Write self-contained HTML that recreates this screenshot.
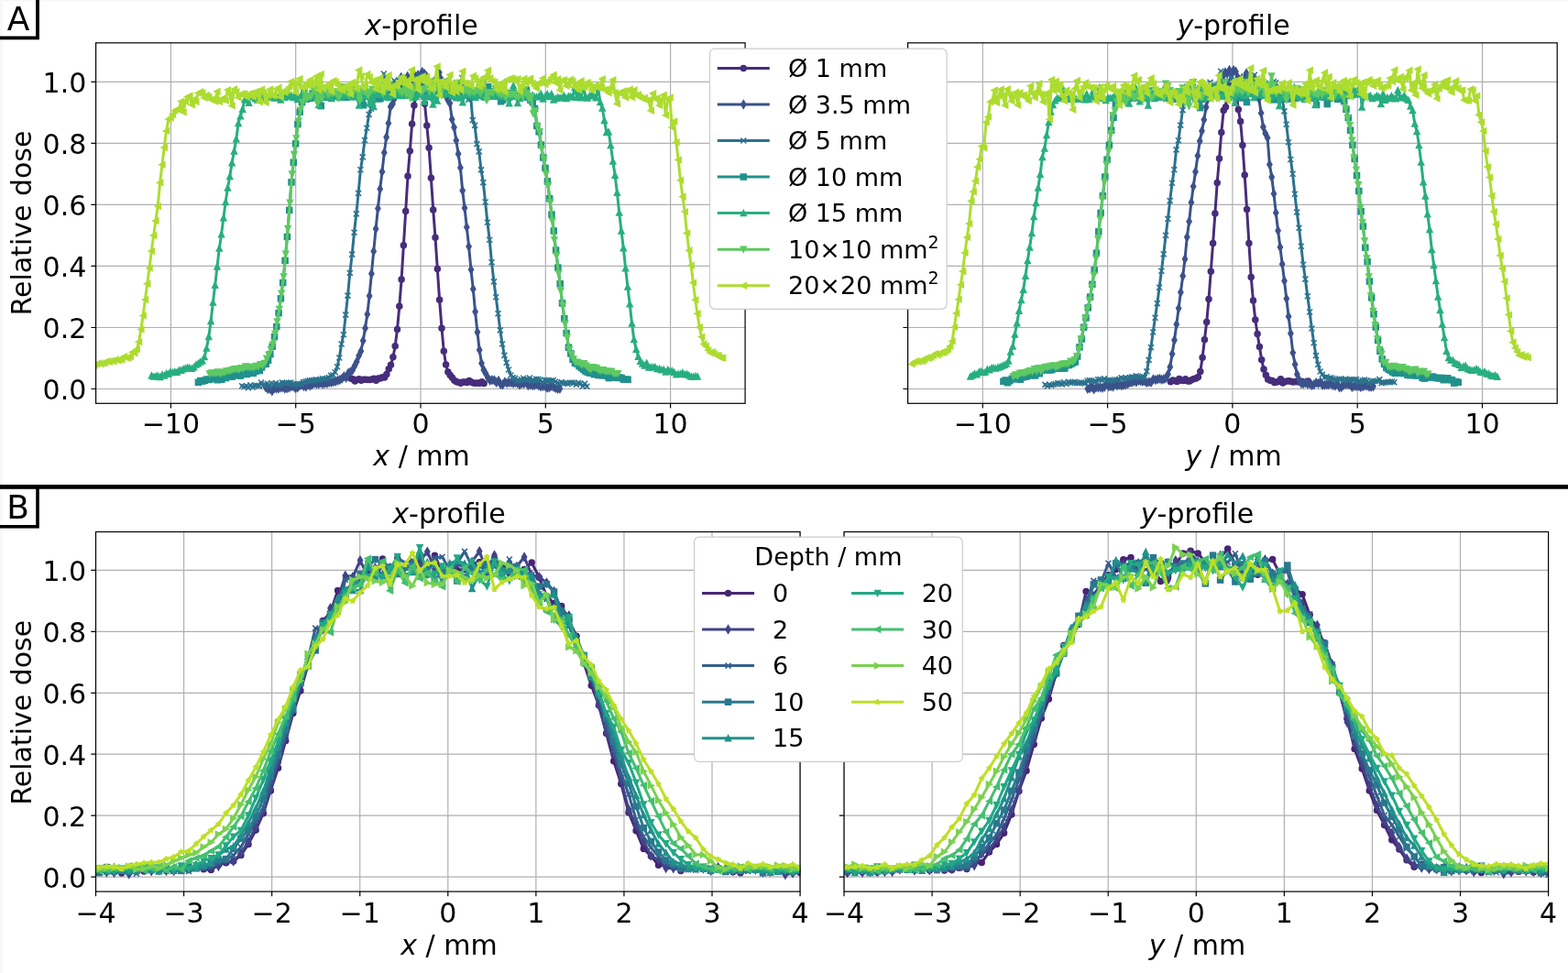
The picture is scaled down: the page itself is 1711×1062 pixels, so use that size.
<!DOCTYPE html><html><head><meta charset="utf-8"><title>Dose profiles</title><style>html,body{margin:0;padding:0;background:#fff;overflow:hidden}svg{display:block}text{font-family:"DejaVu Sans","Liberation Sans",sans-serif}</style></head><body><svg width="1711" height="1062" viewBox="0 0 1711 1062" font-family="'DejaVu Sans', 'Liberation Sans', sans-serif" fill="#000"><defs><marker id="ma0" markerUnits="userSpaceOnUse" markerWidth="14" markerHeight="14" refX="7" refY="7" orient="0" overflow="visible"><circle cx="7" cy="7" r="3" fill="#472d7b" stroke="#472d7b" stroke-width="1.5" stroke-linejoin="miter"/></marker><marker id="ma1" markerUnits="userSpaceOnUse" markerWidth="14" markerHeight="14" refX="7" refY="7" orient="0" overflow="visible"><polygon points="7.00,2.76 9.55,7.00 7.00,11.24 4.45,7.00" fill="#3b528b" stroke="#3b528b" stroke-width="1.5" stroke-linejoin="miter"/></marker><marker id="ma2" markerUnits="userSpaceOnUse" markerWidth="14" markerHeight="14" refX="7" refY="7" orient="0" overflow="visible"><path d="M4 4L10 10M4 10L10 4" fill="none" stroke="#2c728e" stroke-width="1.5"/></marker><marker id="ma3" markerUnits="userSpaceOnUse" markerWidth="14" markerHeight="14" refX="7" refY="7" orient="0" overflow="visible"><rect x="4" y="4" width="6" height="6" fill="#21918c" stroke="#21918c" stroke-width="1.5" stroke-linejoin="miter"/></marker><marker id="ma4" markerUnits="userSpaceOnUse" markerWidth="14" markerHeight="14" refX="7" refY="7" orient="0" overflow="visible"><polygon points="7.00,4.00 4.00,10.00 10.00,10.00" fill="#28ae80" stroke="#28ae80" stroke-width="1.5" stroke-linejoin="miter"/></marker><marker id="ma5" markerUnits="userSpaceOnUse" markerWidth="14" markerHeight="14" refX="7" refY="7" orient="0" overflow="visible"><polygon points="7.00,10.00 4.00,4.00 10.00,4.00" fill="#5ec962" stroke="#5ec962" stroke-width="1.5" stroke-linejoin="miter"/></marker><marker id="ma6" markerUnits="userSpaceOnUse" markerWidth="14" markerHeight="14" refX="7" refY="7" orient="0" overflow="visible"><polygon points="4.00,7.00 10.00,4.00 10.00,10.00" fill="#addc30" stroke="#addc30" stroke-width="1.5" stroke-linejoin="miter"/></marker><marker id="mb0" markerUnits="userSpaceOnUse" markerWidth="14" markerHeight="14" refX="7" refY="7" orient="0" overflow="visible"><circle cx="7" cy="7" r="3" fill="#482475" stroke="#482475" stroke-width="1.5" stroke-linejoin="miter"/></marker><marker id="mb1" markerUnits="userSpaceOnUse" markerWidth="14" markerHeight="14" refX="7" refY="7" orient="0" overflow="visible"><polygon points="7.00,2.76 9.55,7.00 7.00,11.24 4.45,7.00" fill="#414487" stroke="#414487" stroke-width="1.5" stroke-linejoin="miter"/></marker><marker id="mb2" markerUnits="userSpaceOnUse" markerWidth="14" markerHeight="14" refX="7" refY="7" orient="0" overflow="visible"><path d="M4 4L10 10M4 10L10 4" fill="none" stroke="#355f8d" stroke-width="1.5"/></marker><marker id="mb3" markerUnits="userSpaceOnUse" markerWidth="14" markerHeight="14" refX="7" refY="7" orient="0" overflow="visible"><rect x="4" y="4" width="6" height="6" fill="#2a788e" stroke="#2a788e" stroke-width="1.5" stroke-linejoin="miter"/></marker><marker id="mb4" markerUnits="userSpaceOnUse" markerWidth="14" markerHeight="14" refX="7" refY="7" orient="0" overflow="visible"><polygon points="7.00,4.00 4.00,10.00 10.00,10.00" fill="#21918c" stroke="#21918c" stroke-width="1.5" stroke-linejoin="miter"/></marker><marker id="mb5" markerUnits="userSpaceOnUse" markerWidth="14" markerHeight="14" refX="7" refY="7" orient="0" overflow="visible"><polygon points="7.00,10.00 4.00,4.00 10.00,4.00" fill="#22a884" stroke="#22a884" stroke-width="1.5" stroke-linejoin="miter"/></marker><marker id="mb6" markerUnits="userSpaceOnUse" markerWidth="14" markerHeight="14" refX="7" refY="7" orient="0" overflow="visible"><polygon points="4.00,7.00 10.00,4.00 10.00,10.00" fill="#44bf70" stroke="#44bf70" stroke-width="1.5" stroke-linejoin="miter"/></marker><marker id="mb7" markerUnits="userSpaceOnUse" markerWidth="14" markerHeight="14" refX="7" refY="7" orient="0" overflow="visible"><polygon points="10.00,7.00 4.00,4.00 4.00,10.00" fill="#7ad151" stroke="#7ad151" stroke-width="1.5" stroke-linejoin="miter"/></marker><marker id="mb8" markerUnits="userSpaceOnUse" markerWidth="14" markerHeight="14" refX="7" refY="7" orient="0" overflow="visible"><polygon points="7.00,4.00 6.33,6.07 4.15,6.07 5.91,7.35 5.24,9.43 7.00,8.15 8.76,9.43 8.09,7.35 9.85,6.07 7.67,6.07" fill="#bddf26" stroke="#bddf26" stroke-width="1.5" stroke-linejoin="bevel"/></marker><clipPath id="cA1"><rect x="104.6" y="46.8" width="708.5" height="393.5"/></clipPath><clipPath id="cA2"><rect x="990.6" y="46.8" width="708.6" height="393.5"/></clipPath><clipPath id="cB1"><rect x="104.5" y="580.5" width="768.6" height="392.6"/></clipPath><clipPath id="cB2"><rect x="921" y="580.5" width="768.6" height="392.6"/></clipPath></defs><rect width="1711" height="1062" fill="#fff"/><rect x="0" y="0" width="2" height="1062" fill="#f7f7f7"/><rect x="2" y="0" width="2" height="1062" fill="#fcfcfc"/><rect x="0" y="0" width="1711" height="1" fill="#f7f7f7"/><rect x="0" y="1" width="1711" height="1" fill="#fcfcfc"/><g stroke="#b0b0b0" stroke-width="1.2" stroke-linecap="square" clip-path="url(#cA1)"><line x1="186.4" y1="46.8" x2="186.4" y2="440.3"/><line x1="322.7" y1="46.8" x2="322.7" y2="440.3"/><line x1="459" y1="46.8" x2="459" y2="440.3"/><line x1="595.3" y1="46.8" x2="595.3" y2="440.3"/><line x1="731.6" y1="46.8" x2="731.6" y2="440.3"/><line x1="104.6" y1="424.5" x2="813.1" y2="424.5"/><line x1="104.6" y1="357.48" x2="813.1" y2="357.48"/><line x1="104.6" y1="290.46" x2="813.1" y2="290.46"/><line x1="104.6" y1="223.44" x2="813.1" y2="223.44"/><line x1="104.6" y1="156.42" x2="813.1" y2="156.42"/><line x1="104.6" y1="89.4" x2="813.1" y2="89.4"/></g><g fill="none" stroke-width="3" stroke-linejoin="round" stroke-linecap="square" clip-path="url(#cA1)"><polyline points="382.7,413.1 385,413.7 387.3,416 389.6,414.5 391.9,413.8 394.2,415.2 396.5,414.2 398.8,414.3 401.1,414.4 403.5,414.6 405.8,414 408.1,413.2 410.4,415.3 412.7,412.9 415,413 417.3,411.7 419.6,412 421.9,408.5 424.2,402.7 426.5,398.2 428.9,389.8 431.2,377.8 433.5,359.5 435.8,334.3 438.1,304.9 440.4,267.7 442.7,230.5 445,192.2 447.3,164.8 449.6,135.3 451.9,115.1 454.2,99.6 456.6,95.9 458.9,89 461.2,91.7 463.5,113.3 465.8,137.1 468.1,161.3 470.4,194.3 472.7,228.9 475,259.3 477.3,293.4 479.6,327.3 482,358.2 484.3,383.3 486.6,398 488.9,406 491.2,409.5 493.5,412.2 495.8,415.3 498.1,416.8 500.4,417.3 502.7,418.3 505,417.1 507.4,417 509.7,417.6 512,415.4 514.3,416.9 516.6,417.9 518.9,418.2 521.2,418 523.5,418.3 525.8,416.7 528.1,418.5" stroke="#472d7b" marker-start="url(#ma0)" marker-mid="url(#ma0)" marker-end="url(#ma0)"/><polyline points="290,422.7 292.3,424.6 294.6,424.6 296.9,426.7 299.2,423.8 301.5,424 303.8,424 306.2,423 308.5,422.7 310.8,424.1 313.1,423.7 315.4,423.1 317.7,421.8 320,421.8 322.3,423.5 324.6,423.1 326.9,421.1 329.2,420.1 331.5,421.5 333.9,422 336.2,420 338.5,421.1 340.8,419.6 343.1,418.4 345.4,418.9 347.7,419.1 350,418 352.3,419 354.6,418.2 356.9,418.2 359.3,417.4 361.6,417.3 363.9,416.6 366.2,416.3 368.5,415.3 370.8,414.5 373.1,413.2 375.4,410.8 377.7,412.2 380,407.2 382.3,406 384.7,403.9 387,399.3 389.3,394.7 391.6,388.3 393.9,383.3 396.2,371.9 398.5,358.2 400.8,343.1 403.1,323 405.4,298.7 407.7,274.3 410.1,249.7 412.4,227.5 414.7,206.3 417,187.4 419.3,166.6 421.6,149.7 423.9,134.6 426.2,116.5 428.5,113.4 430.8,107 433.1,100.3 435.5,95 437.8,84.3 440.1,95.1 442.4,92.8 444.7,83.3 447,92.8 449.3,89.1 451.6,84.2 453.9,83.3 456.2,81.8 458.5,82.2 460.8,78.5 463.2,80.6 465.5,83.3 467.8,89.5 470.1,90.7 472.4,96.5 474.7,87.2 477,98.4 479.3,79.1 481.6,86.9 483.9,101.3 486.2,103.7 488.6,109 490.9,112.7 493.2,130.2 495.5,139.1 497.8,153.3 500.1,168 502.4,183.1 504.7,208 507,227 509.3,247.9 511.6,269.1 514,294.3 516.3,315.6 518.6,340.3 520.9,362.5 523.2,382 525.5,396.6 527.8,403.7 530.1,407.7 532.4,412.4 534.7,415.2 537,414.8 539.4,415 541.7,417.4 544,415.5 546.3,419.6 548.6,419.7 550.9,416.9 553.2,418.1 555.5,417.4 557.8,417.5 560.1,418.2 562.4,417.6 564.7,418.2 567.1,420 569.4,418.5 571.7,418.8 574,417.4 576.3,420.7 578.6,419.9 580.9,420.6 583.2,420.6 585.5,419.1 587.8,420.7 590.1,421.9 592.5,421.6 594.8,421.3 597.1,423.4 599.4,422.9 601.7,421.4 604,422.4 606.3,423.6 608.6,424.4 610.9,424.3" stroke="#3b528b" marker-start="url(#ma1)" marker-mid="url(#ma1)" marker-end="url(#ma1)"/><polyline points="264.1,421.3 266.4,422.3 268.7,421.3 271,423.1 273.3,420.4 275.6,422.6 277.9,420.9 280.3,420.8 282.6,421.4 284.9,417.5 287.2,420.8 289.5,419.6 291.8,418.8 294.1,421 296.4,418.3 298.7,419.6 301,418.3 303.3,420 305.7,420 308,417.6 310.3,418.1 312.6,418.4 314.9,417.7 317.2,417.6 319.5,419.2 321.8,420 324.1,419.2 326.4,419 328.7,419.1 331,417.1 333.4,416.6 335.7,415.8 338,415.2 340.3,415.4 342.6,414.9 344.9,414.2 347.2,414.9 349.5,414.3 351.8,413.2 354.1,413.5 356.4,413 358.8,412.1 361.1,409.9 363.4,409.2 365.7,406.2 368,400.2 370.3,390.5 372.6,375.5 374.9,365.3 377.2,343.6 379.5,322.6 381.8,297.9 384.2,277.6 386.5,253.7 388.8,233.4 391.1,210.9 393.4,185.3 395.7,171.4 398,153 400.3,139.7 402.6,124.9 404.9,118.7 407.2,113.3 409.6,104.2 411.9,99.9 414.2,97.9 416.5,102.9 418.8,80.5 421.1,93.6 423.4,98.9 425.7,94.9 428,92.1 430.3,88.1 432.6,100.2 435,87.2 437.3,86.2 439.6,94.2 441.9,92.8 444.2,94 446.5,93.7 448.8,96.4 451.1,97.4 453.4,91.1 455.7,88.9 458,82.3 460.3,93.7 462.7,98.1 465,89.3 467.3,91.9 469.6,88.8 471.9,92 474.2,95.6 476.5,93.5 478.8,87.7 481.1,90 483.4,95.2 485.7,87.9 488.1,97.4 490.4,94 492.7,91.2 495,97.7 497.3,97.2 499.6,92.6 501.9,93.5 504.2,85 506.5,98.2 508.8,103.7 511.1,109 513.5,103.9 515.8,131.1 518.1,136.9 520.4,157.1 522.7,165.4 525,185.4 527.3,199.1 529.6,220.5 531.9,242.7 534.2,261.7 536.5,286.2 538.9,307.4 541.2,324.2 543.5,342.3 545.8,360.4 548.1,375.5 550.4,387.9 552.7,395.9 555,403.5 557.3,409.5 559.6,412 561.9,412.9 564.3,415.6 566.6,415.4 568.9,414.3 571.2,412.7 573.5,414.3 575.8,414.4 578.1,412.5 580.4,415.6 582.7,415.3 585,413.9 587.3,413.9 589.6,414.7 592,418 594.3,414.8 596.6,415.1 598.9,415.9 601.2,415.5 603.5,415 605.8,416.5 608.1,417.7 610.4,418.8 612.7,417.1 615,418.1 617.4,418.2 619.7,419 622,417.7 624.3,417.5 626.6,418 628.9,419.8 631.2,417.9 633.5,418.7 635.8,421.7 638.1,418.8 640.4,421.7" stroke="#2c728e" marker-start="url(#ma2)" marker-mid="url(#ma2)" marker-end="url(#ma2)"/><polyline points="216.4,417.3 218.7,415.6 221,416.1 223.3,415.3 225.6,414.1 227.9,414.5 230.2,413.4 232.5,413.5 234.9,412.5 237.2,414.7 239.5,414.1 241.8,414.3 244.1,412.1 246.4,412.6 248.7,411 251,411.3 253.3,411.1 255.6,408.6 257.9,409.6 260.3,409.7 262.6,410.1 264.9,407.4 267.2,407 269.5,408.5 271.8,407 274.1,406 276.4,407.4 278.7,405.3 281,402.8 283.3,404.6 285.7,400.8 288,397.5 290.3,397.3 292.6,393.2 294.9,386.7 297.2,378.3 299.5,367.6 301.8,356.5 304.1,341.8 306.4,325.9 308.7,308.6 311.1,284.4 313.4,258.4 315.7,229.4 318,198.9 320.3,177.3 322.6,156.9 324.9,135.6 327.2,122.2 329.5,111.7 331.8,96.5 334.1,108.2 336.4,107.3 338.8,107.3 341.1,102.1 343.4,100.2 345.7,105.7 348,103.9 350.3,115.6 352.6,96.7 354.9,106.4 357.2,106.2 359.5,98.7 361.8,106.7 364.2,103.3 366.5,101.9 368.8,104.8 371.1,105.2 373.4,102.3 375.7,98.4 378,106.3 380.3,99.2 382.6,104.7 384.9,101.9 387.2,105.6 389.6,101.9 391.9,105 394.2,101.4 396.5,114.8 398.8,103.8 401.1,100.4 403.4,105.6 405.7,104.4 408,100.2 410.3,100 412.6,107.9 415,107.7 417.3,99.7 419.6,100.6 421.9,102.3 424.2,106.5 426.5,99 428.8,96.4 431.1,99.6 433.4,97.3 435.7,102.5 438,100.1 440.4,102.2 442.7,103.3 445,101.1 447.3,102.5 449.6,102 451.9,101.9 454.2,100.8 456.5,100.4 458.8,99.2 461.1,102.9 463.4,105.4 465.7,104.6 468.1,99.7 470.4,99.7 472.7,106.2 475,101 477.3,97.3 479.6,99.1 481.9,101.7 484.2,102 486.5,99.8 488.8,100.3 491.1,98.6 493.5,100.5 495.8,98.6 498.1,100 500.4,103.2 502.7,104 505,102.8 507.3,100.4 509.6,103.9 511.9,99.3 514.2,105.9 516.5,102.6 518.9,104.5 521.2,101.2 523.5,101.8 525.8,102.7 528.1,105.7 530.4,104.8 532.7,94.6 535,100 537.3,104.5 539.6,101.5 541.9,100.5 544.3,105.3 546.6,110.8 548.9,109.1 551.2,104.4 553.5,101.5 555.8,106 558.1,102.7 560.4,101.6 562.7,102.8 565,105.1 567.3,103.4 569.7,105.9 572,105.3 574.3,98 576.6,106.5 578.9,109.2 581.2,111.6 583.5,118.5 585.8,137.4 588.1,143.8 590.4,158.1 592.7,172 595,183.4 597.4,197.9 599.7,216.7 602,234.1 604.3,252 606.6,273.1 608.9,292.1 611.2,309.8 613.5,330.9 615.8,347.7 618.1,363.6 620.4,379.2 622.8,385.9 625.1,392.3 627.4,396.2 629.7,397.1 632,399.6 634.3,401.5 636.6,403.3 638.9,405.1 641.2,406.2 643.5,407.1 645.8,407 648.2,408.6 650.5,408.4 652.8,409.5 655.1,409 657.4,409.9 659.7,408.9 662,410.3 664.3,412.6 666.6,411.5 668.9,412.2 671.2,411.1 673.6,412.4 675.9,412 678.2,412.5 680.5,414.2 682.8,414.2 685.1,414.2" stroke="#21918c" marker-start="url(#ma3)" marker-mid="url(#ma3)" marker-end="url(#ma3)"/><polyline points="165.4,409.9 167.7,411.1 170,410.5 172.3,410.2 174.6,411.6 177,408.9 179.3,410 181.6,407.7 183.9,407.9 186.2,405.7 188.5,406.5 190.8,405.7 193.1,406.2 195.4,404 197.7,404.2 200,402.8 202.4,401.9 204.7,401.2 207,401.5 209.3,402.3 211.6,400.8 213.9,398 216.2,396.8 218.5,394.9 220.8,393.8 223.1,389.6 225.4,380.1 227.8,367.4 230.1,350.5 232.4,330.1 234.7,311.2 237,290.9 239.3,271.1 241.6,255.7 243.9,237.7 246.2,220.4 248.5,204.9 250.8,192.6 253.1,177.7 255.5,164.9 257.8,151.7 260.1,134.4 262.4,126.8 264.7,119.2 267,108.7 269.3,108.8 271.6,112.2 273.9,103.2 276.2,105.2 278.5,107.4 280.9,109 283.2,107.9 285.5,105.8 287.8,105 290.1,106.5 292.4,106 294.7,100.6 297,104.7 299.3,107.1 301.6,104.1 303.9,106.7 306.3,109.1 308.6,104.7 310.9,106.3 313.2,104.9 315.5,101.9 317.8,104.7 320.1,106.3 322.4,102.1 324.7,108.4 327,106.7 329.3,102.4 331.7,102.1 334,105.1 336.3,105.9 338.6,104.1 340.9,104.1 343.2,104.3 345.5,105.4 347.8,114.4 350.1,105.7 352.4,105.2 354.7,105.1 357.1,105.6 359.4,104.6 361.7,107.4 364,102.8 366.3,102 368.6,105.3 370.9,106.5 373.2,103.6 375.5,103.2 377.8,104.3 380.1,102.4 382.4,104.9 384.8,105.8 387.1,101.3 389.4,104.7 391.7,115 394,107.6 396.3,104.4 398.6,104.7 400.9,103.7 403.2,112.8 405.5,103.3 407.8,116.5 410.2,92.7 412.5,102.9 414.8,102.5 417.1,103.5 419.4,103.2 421.7,105.7 424,105.9 426.3,104.4 428.6,104.5 430.9,102.9 433.2,100.4 435.6,104.2 437.9,104.6 440.2,101.4 442.5,104.1 444.8,104.1 447.1,103 449.4,102.3 451.7,106.4 454,105.2 456.3,102 458.6,102.5 461,103 463.3,111.1 465.6,105.7 467.9,103 470.2,104 472.5,114.1 474.8,104.5 477.1,110.1 479.4,98.9 481.7,102.2 484,102.9 486.3,100.6 488.7,102.2 491,99.7 493.3,104.8 495.6,105.2 497.9,106.8 500.2,105 502.5,106.7 504.8,111.8 507.1,103.3 509.4,102.6 511.7,103.2 514.1,103.6 516.4,104 518.7,106.2 521,101.1 523.3,104.3 525.6,100.7 527.9,102.6 530.2,106.1 532.5,104.6 534.8,104.6 537.1,105 539.5,105.1 541.8,104.2 544.1,105.2 546.4,105.5 548.7,93.1 551,104.2 553.3,105.2 555.6,112.8 557.9,105.1 560.2,93.4 562.5,104.5 564.9,112.4 567.2,107.6 569.5,101.7 571.8,105.4 574.1,102.6 576.4,105.7 578.7,105 581,104 583.3,105.5 585.6,105.8 587.9,105.3 590.3,102.4 592.6,108 594.9,105.1 597.2,102.7 599.5,105.6 601.8,102.5 604.1,109 606.4,107.5 608.7,106.2 611,106.8 613.3,106.6 615.6,104.4 618,107.4 620.3,105 622.6,105.1 624.9,105.9 627.2,95.6 629.5,106.2 631.8,102 634.1,106.7 636.4,94.1 638.7,105.1 641,107 643.4,104.5 645.7,103.6 648,104.8 650.3,106.8 652.6,95.1 654.9,111.5 657.2,118 659.5,131.4 661.8,144.5 664.1,143.9 666.4,158.6 668.8,176 671.1,191.2 673.4,210.2 675.7,232.1 678,252 680.3,270.7 682.6,292.7 684.9,313.1 687.2,331.8 689.5,353 691.8,370.6 694.2,381.3 696.5,389.2 698.8,394.4 701.1,396.9 703.4,398.9 705.7,396.3 708,401 710.3,400.6 712.6,400.7 714.9,400.6 717.2,402.6 719.6,402.4 721.9,403.8 724.2,403.3 726.5,406.1 728.8,403.4 731.1,404.8 733.4,404.9 735.7,406.4 738,408.8 740.3,408.2 742.6,408 744.9,406.8 747.3,408.8 749.6,408.2 751.9,409.7 754.2,411 756.5,411.1 758.8,410.7 761.1,410.9" stroke="#28ae80" marker-start="url(#ma4)" marker-mid="url(#ma4)" marker-end="url(#ma4)"/><polyline points="228.7,407.9 231,407 233.3,407.2 235.6,407.2 237.9,406.1 240.2,407.7 242.5,406.7 244.8,406.3 247.1,405.1 249.4,404.9 251.7,404.3 254.1,403.4 256.4,402.7 258.7,402.6 261,403.2 263.3,401.7 265.6,402.1 267.9,400 270.2,400.5 272.5,400.8 274.8,400.6 277.1,401.1 279.4,399.5 281.8,400.1 284.1,397.7 286.4,398.7 288.7,396.5 291,391.3 293.3,387.2 295.6,381.4 297.9,375.9 300.2,364.3 302.5,351.1 304.8,337.5 307.2,320.3 309.5,302.1 311.8,277.3 314.1,249.5 316.4,221.3 318.7,190 321,168.6 323.3,151.1 325.6,132.6 327.9,120.3 330.2,112 332.6,102.6 334.9,107.9 337.2,105.3 339.5,105.1 341.8,98.1 344.1,97.1 346.4,112.7 348.7,97.1 351,107.9 353.3,97.1 355.6,98.7 358,103.7 360.3,101.6 362.6,101.8 364.9,100.1 367.2,101.4 369.5,107 371.8,103.2 374.1,94.7 376.4,99.7 378.7,101 381,104.1 383.4,97.2 385.7,99.8 388,92.7 390.3,100.8 392.6,109.6 394.9,97.1 397.2,99.6 399.5,101.3 401.8,104.4 404.1,100.4 406.4,97.6 408.7,98.3 411.1,89.9 413.4,97.1 415.7,98.4 418,102.3 420.3,97.7 422.6,96.9 424.9,91.9 427.2,98.1 429.5,101.6 431.8,94 434.1,95.3 436.5,99.5 438.8,101.5 441.1,92.1 443.4,102.8 445.7,99.1 448,107.2 450.3,100.2 452.6,97.2 454.9,94.7 457.2,87 459.5,100.5 461.9,98.3 464.2,96.8 466.5,92.7 468.8,100.1 471.1,91.7 473.4,99.8 475.7,92.4 478,89.9 480.3,92.9 482.6,98.1 484.9,92 487.3,93.8 489.6,96.2 491.9,98.5 494.2,99.4 496.5,98.6 498.8,90.4 501.1,96.7 503.4,97.1 505.7,100.3 508,97.7 510.3,99.9 512.7,101.5 515,98.9 517.3,100.9 519.6,99.1 521.9,90.2 524.2,102.1 526.5,98.1 528.8,87.6 531.1,109.6 533.4,101.1 535.7,101 538,101.4 540.4,96.4 542.7,100.5 545,102.3 547.3,103.6 549.6,99 551.9,106.7 554.2,102.5 556.5,103.6 558.8,103 561.1,102.9 563.4,105.9 565.8,106 568.1,102.4 570.4,105.2 572.7,97.7 575,101.7 577.3,107.8 579.6,105.6 581.9,124.1 584.2,121 586.5,138.2 588.8,143.8 591.2,162.6 593.5,173.6 595.8,190 598.1,202.7 600.4,221.1 602.7,241.4 605,261.9 607.3,279.3 609.6,298.5 611.9,317.5 614.2,333.3 616.6,353.4 618.9,368.3 621.2,381.5 623.5,386.8 625.8,391.9 628.1,395.3 630.4,395.6 632.7,396.4 635,398.4 637.3,396.8 639.6,399.1 642,401.6 644.3,403.3 646.6,400.7 648.9,401.3 651.2,402 653.5,404.1 655.8,404.7 658.1,403.7 660.4,405.3 662.7,405.4 665,405.3 667.3,405.4 669.7,407.8 672,407.7 674.3,407.7" stroke="#5ec962" marker-start="url(#ma5)" marker-mid="url(#ma5)" marker-end="url(#ma5)"/><polyline points="100.7,397.4 103,398.7 105.3,397.4 107.6,396.3 109.9,397.2 112.2,396.2 114.5,396 116.8,394.2 119.1,395 121.4,393.7 123.8,394.2 126.1,392.5 128.4,393.4 130.7,393.1 133,392 135.3,389.2 137.6,390.6 139.9,390.7 142.2,389.2 144.5,384.3 146.8,385.2 149.2,381.2 151.5,373.2 153.8,359.6 156.1,344.6 158.4,327.1 160.7,309.7 163,292.6 165.3,274.1 167.6,257 169.9,240.9 172.2,225.1 174.6,199.4 176.9,179.8 179.2,161 181.5,142.9 183.8,130.3 186.1,128.3 188.4,125 190.7,120.8 193,119.3 195.3,119.4 197.6,110.6 200,122.5 202.3,110.9 204.6,105.6 206.9,104.4 209.2,114.6 211.5,108.5 213.8,111 216.1,101.6 218.4,100.3 220.7,101.5 223,106.7 225.3,103.9 227.7,105.4 230,108.8 232.3,108.7 234.6,110.7 236.9,99.8 239.2,111 241.5,108.4 243.8,106.9 246.1,109.8 248.4,98.1 250.7,102.6 253.1,115.4 255.4,97.3 257.7,100.2 260,106.5 262.3,102.9 264.6,102.2 266.9,102.4 269.2,106 271.5,102.7 273.8,101.8 276.1,105.9 278.5,100.1 280.8,100.9 283.1,111.4 285.4,97.5 287.7,101.1 290,112 292.3,104.1 294.6,97.4 296.9,104.4 299.2,104.3 301.5,97.1 303.9,95.7 306.2,106.1 308.5,99.8 310.8,100.7 313.1,98.8 315.4,95.1 317.7,88.9 320,91 322.3,100.8 324.6,91.6 326.9,85.9 329.3,95.9 331.6,94.6 333.9,91.1 336.2,93.8 338.5,87.2 340.8,93.2 343.1,90.2 345.4,83.2 347.7,98.3 350,80.9 352.3,96.8 354.6,94.1 357,94.7 359.3,91.4 361.6,100 363.9,87.9 366.2,89.6 368.5,92.9 370.8,97.7 373.1,98.3 375.4,94.4 377.7,96.5 380,92.7 382.4,102.8 384.7,89.6 387,91.9 389.3,96.9 391.6,76.4 393.9,83.2 396.2,95.5 398.5,93.2 400.8,80.9 403.1,84.3 405.4,90.1 407.8,87.6 410.1,97.3 412.4,91 414.7,84.9 417,99.8 419.3,87.9 421.6,95.4 423.9,82 426.2,95.7 428.5,103 430.8,93.2 433.2,93.4 435.5,89 437.8,84.2 440.1,86.8 442.4,91.9 444.7,87.7 447,94.5 449.3,76.1 451.6,87.6 453.9,87.3 456.2,97.9 458.6,86.1 460.9,83.1 463.2,89.8 465.5,83.6 467.8,88.4 470.1,96.8 472.4,95.9 474.7,87.6 477,72.5 479.3,104.2 481.6,88.7 483.9,91.3 486.3,95.2 488.6,87.7 490.9,81.6 493.2,101.2 495.5,90.3 497.8,100.3 500.1,94.9 502.4,98.2 504.7,77.7 507,90.7 509.3,90.9 511.7,92 514,93.8 516.3,82.7 518.6,85.5 520.9,88.8 523.2,94.5 525.5,91.4 527.8,84.5 530.1,84.7 532.4,76.8 534.7,85.2 537.1,88.7 539.4,89.4 541.7,97.8 544,92.3 546.3,97.3 548.6,89.8 550.9,100.5 553.2,87 555.5,86.1 557.8,85.3 560.1,86.1 562.5,88.7 564.8,85.9 567.1,99.8 569.4,93 571.7,85.8 574,90.7 576.3,87.1 578.6,85.5 580.9,90.8 583.2,93.8 585.5,96.6 587.8,90.8 590.2,89.5 592.5,85.2 594.8,92.1 597.1,89.2 599.4,87.5 601.7,84.4 604,81.6 606.3,90.5 608.6,86.1 610.9,98.5 613.2,87.8 615.6,87.2 617.9,93.7 620.2,92.3 622.5,86.7 624.8,88.5 627.1,95 629.4,91.1 631.7,98.4 634,88.3 636.3,95.9 638.6,93.7 641,89.9 643.3,93.1 645.6,98.5 647.9,94.6 650.2,93 652.5,95.7 654.8,95.9 657.1,86.1 659.4,98 661.7,97.8 664,101.6 666.4,95.9 668.7,87.2 671,100.9 673.3,113.3 675.6,101.3 677.9,102.6 680.2,99.2 682.5,106.5 684.8,98.7 687.1,97.5 689.4,106.2 691.8,98.3 694.1,104 696.4,103.1 698.7,106.3 701,107.8 703.3,106.6 705.6,109.5 707.9,109.8 710.2,120.7 712.5,102 714.8,107.9 717.1,107.2 719.5,115.1 721.8,109 724.1,103.6 726.4,125.8 728.7,108.2 731,106.4 733.3,139.1 735.6,132.5 737.9,155.3 740.2,174.5 742.5,196.8 744.9,214.7 747.2,231.1 749.5,254.4 751.8,273.3 754.1,289.8 756.4,308.6 758.7,327.3 761,342.3 763.3,357.2 765.6,367.6 767.9,375.5 770.3,378 772.6,382.1 774.9,385.1 777.2,384.1 779.5,386.3 781.8,387.9 784.1,387.9 786.4,390.5 788.7,390.7" stroke="#addc30" marker-start="url(#ma6)" marker-mid="url(#ma6)" marker-end="url(#ma6)"/></g><rect x="104.6" y="46.8" width="708.5" height="393.5" fill="none" stroke="#000" stroke-width="1.2"/><path d="M186.4 440.3v5.2M322.7 440.3v5.2M459 440.3v5.2M595.3 440.3v5.2M731.6 440.3v5.2M104.6 424.5h-5.2M104.6 357.48h-5.2M104.6 290.46h-5.2M104.6 223.44h-5.2M104.6 156.42h-5.2M104.6 89.4h-5.2" stroke="#000" stroke-width="1.2"/><text x="186.4" y="473.1" font-size="30" text-anchor="middle">−10</text><text x="322.7" y="473.1" font-size="30" text-anchor="middle">−5</text><text x="459" y="473.1" font-size="30" text-anchor="middle">0</text><text x="595.3" y="473.1" font-size="30" text-anchor="middle">5</text><text x="731.6" y="473.1" font-size="30" text-anchor="middle">10</text><text x="94.3" y="436.3" font-size="30" text-anchor="end">0.0</text><text x="94.3" y="369.28" font-size="30" text-anchor="end">0.2</text><text x="94.3" y="302.26" font-size="30" text-anchor="end">0.4</text><text x="94.3" y="235.24" font-size="30" text-anchor="end">0.6</text><text x="94.3" y="168.22" font-size="30" text-anchor="end">0.8</text><text x="94.3" y="101.2" font-size="30" text-anchor="end">1.0</text><text x="0" y="0" font-size="30" text-anchor="middle" transform="translate(34.4 243.55) rotate(-90)">Relative dose</text><text x="460.05" y="37.9" font-size="30" text-anchor="middle"><tspan font-style="italic">x</tspan>-profile</text><text x="460.05" y="507.9" font-size="30" text-anchor="middle"><tspan font-style="italic">x</tspan> / mm</text><g stroke="#b0b0b0" stroke-width="1.2" stroke-linecap="square" clip-path="url(#cA2)"><line x1="1072.3" y1="46.8" x2="1072.3" y2="440.3"/><line x1="1208.6" y1="46.8" x2="1208.6" y2="440.3"/><line x1="1344.9" y1="46.8" x2="1344.9" y2="440.3"/><line x1="1481.2" y1="46.8" x2="1481.2" y2="440.3"/><line x1="1617.5" y1="46.8" x2="1617.5" y2="440.3"/><line x1="990.6" y1="424.5" x2="1699.2" y2="424.5"/><line x1="990.6" y1="357.48" x2="1699.2" y2="357.48"/><line x1="990.6" y1="290.46" x2="1699.2" y2="290.46"/><line x1="990.6" y1="223.44" x2="1699.2" y2="223.44"/><line x1="990.6" y1="156.42" x2="1699.2" y2="156.42"/><line x1="990.6" y1="89.4" x2="1699.2" y2="89.4"/></g><g fill="none" stroke-width="3" stroke-linejoin="round" stroke-linecap="square" clip-path="url(#cA2)"><polyline points="1277.4,416.7 1279.7,415.1 1282,415.6 1284.4,416.4 1286.7,413.5 1289,415.3 1291.3,415.6 1293.6,413.7 1295.9,416 1298.2,416 1300.5,414.5 1302.8,413.6 1305.1,413 1307.4,411.5 1309.8,405.4 1312.1,390.3 1314.4,370.8 1316.7,351.5 1319,326.6 1321.3,296.2 1323.6,265.5 1325.9,232.9 1328.2,199.5 1330.5,172.9 1332.8,144.4 1335.2,120.6 1337.5,116.7 1339.8,91.4 1342.1,93.8 1344.4,90.9 1346.7,92.8 1349,98.8 1351.3,119.6 1353.6,132.6 1355.9,158.4 1358.2,191.1 1360.6,228.6 1362.9,265.6 1365.2,302.4 1367.5,328.1 1369.8,348.9 1372.1,364.6 1374.4,378.5 1376.7,392.7 1379,402.9 1381.3,409.2 1383.6,414 1386,415.2 1388.3,415.5 1390.6,417.5 1392.9,417.1 1395.2,416.4 1397.5,413.7 1399.8,418 1402.1,416.4 1404.4,416.1 1406.7,415.8 1409,416.6 1411.3,416.9 1413.7,416.5 1416,416.7 1418.3,416.9 1420.6,416.2 1422.9,417.9 1425.2,417.3 1427.5,416" stroke="#472d7b" marker-start="url(#ma0)" marker-mid="url(#ma0)" marker-end="url(#ma0)"/><polyline points="1186.8,424.3 1189.1,423.7 1191.4,422.3 1193.7,424.7 1196,422.9 1198.3,422.8 1200.6,422.8 1203,423.2 1205.3,422.2 1207.6,419 1209.9,421.8 1212.2,421.6 1214.5,422 1216.8,419.7 1219.1,420.7 1221.4,420 1223.7,420.8 1226,420.3 1228.4,419.7 1230.7,418.8 1233,417.6 1235.3,417.2 1237.6,416.1 1239.9,417 1242.2,415.4 1244.5,415.9 1246.8,416.3 1249.1,416.1 1251.4,417.5 1253.8,416.9 1256.1,417.2 1258.4,413.9 1260.7,414.6 1263,414 1265.3,413.4 1267.6,414.3 1269.9,413.7 1272.2,412.9 1274.5,408.5 1276.8,400.5 1279.1,386.3 1281.5,371.2 1283.8,354.1 1286.1,336.6 1288.4,319.1 1290.7,301.3 1293,282.8 1295.3,258.7 1297.6,241.8 1299.9,220.9 1302.2,203.5 1304.5,187.5 1306.9,170.1 1309.2,154.1 1311.5,143 1313.8,130.7 1316.1,117 1318.4,107.4 1320.7,98.8 1323,101.5 1325.3,97.5 1327.6,97.7 1329.9,90.4 1332.3,92.9 1334.6,83.3 1336.9,78.9 1339.2,80.3 1341.5,76.4 1343.8,86 1346.1,76.7 1348.4,78.1 1350.7,84.3 1353,98.3 1355.3,85.3 1357.7,86.2 1360,79.9 1362.3,91 1364.6,95.2 1366.9,101.7 1369.2,100.4 1371.5,100.1 1373.8,107.7 1376.1,123.4 1378.4,138.6 1380.7,145.6 1383.1,150.4 1385.4,179.6 1387.7,193.2 1390,211.4 1392.3,232.3 1394.6,251.7 1396.9,269.7 1399.2,288.3 1401.5,306.6 1403.8,326.1 1406.1,345.4 1408.4,363.9 1410.8,385.1 1413.1,397.7 1415.4,408.6 1417.7,414.7 1420,418.5 1422.3,418.9 1424.6,417.7 1426.9,419.2 1429.2,418.7 1431.5,420.5 1433.8,419.7 1436.2,417.6 1438.5,418.6 1440.8,417 1443.1,420.4 1445.4,420.1 1447.7,419.7 1450,419.8 1452.3,418.9 1454.6,420.6 1456.9,421.1 1459.2,419.5 1461.6,422.9 1463.9,422.6 1466.2,420.2 1468.5,419.5 1470.8,419.6 1473.1,420 1475.4,422.6 1477.7,421.3 1480,421.5 1482.3,421.4 1484.6,422.6 1487,421.7 1489.3,421 1491.6,421 1493.9,422.1 1496.2,422.2 1498.5,421.7" stroke="#3b528b" marker-start="url(#ma1)" marker-mid="url(#ma1)" marker-end="url(#ma1)"/><polyline points="1140.5,419.9 1142.8,421.5 1145.1,419.8 1147.4,420.7 1149.7,419.7 1152,419.1 1154.3,418 1156.6,418.5 1158.9,419.4 1161.2,417.3 1163.5,419 1165.8,416.9 1168.2,417.9 1170.5,417.4 1172.8,416.8 1175.1,417.9 1177.4,418.2 1179.7,417.4 1182,417.8 1184.3,418.5 1186.6,415.8 1188.9,415.1 1191.2,415.6 1193.6,416.5 1195.9,416.3 1198.2,414.3 1200.5,414 1202.8,415.2 1205.1,413.4 1207.4,415.2 1209.7,414.7 1212,415.3 1214.3,415.8 1216.6,414.5 1219,414.5 1221.3,413.7 1223.6,412.3 1225.9,413.3 1228.2,412.4 1230.5,413.2 1232.8,412 1235.1,411.4 1237.4,412 1239.7,410.3 1242,411 1244.4,411.8 1246.7,410.8 1249,412 1251.3,405.4 1253.6,392.9 1255.9,379.1 1258.2,362.5 1260.5,346.8 1262.8,331.1 1265.1,313.7 1267.4,295.8 1269.7,277.4 1272.1,256.9 1274.4,238.9 1276.7,219.1 1279,199.7 1281.3,185.3 1283.6,163.4 1285.9,153.2 1288.2,136.6 1290.5,120.1 1292.8,104.6 1295.1,94.6 1297.5,103 1299.8,106.8 1302.1,94.8 1304.4,108.5 1306.7,98.5 1309,96.5 1311.3,91.3 1313.6,96 1315.9,97.6 1318.2,94.4 1320.5,89.9 1322.9,98.8 1325.2,94.8 1327.5,98.9 1329.8,92.6 1332.1,77.7 1334.4,95 1336.7,91.2 1339,88.7 1341.3,88.6 1343.6,84.7 1345.9,91.5 1348.3,92.4 1350.6,93.1 1352.9,89.7 1355.2,92.1 1357.5,91.8 1359.8,94.9 1362.1,81.7 1364.4,91.4 1366.7,101.5 1369,81.8 1371.3,91.1 1373.7,95.2 1376,91.3 1378.3,89.4 1380.6,93.2 1382.9,98.5 1385.2,90.9 1387.5,98.6 1389.8,89.1 1392.1,90.2 1394.4,102.2 1396.7,108.2 1399,106.3 1401.4,121.4 1403.7,135.7 1406,155.3 1408.3,174 1410.6,189.8 1412.9,211.8 1415.2,231.6 1417.5,248.7 1419.8,268.7 1422.1,288.7 1424.4,304.6 1426.8,323.3 1429.1,340.5 1431.4,358.5 1433.7,374.3 1436,388.1 1438.3,397.9 1440.6,405.5 1442.9,408.7 1445.2,412 1447.5,411.3 1449.8,412.7 1452.2,412.2 1454.5,413.3 1456.8,414.2 1459.1,415.1 1461.4,413.6 1463.7,413.9 1466,414.7 1468.3,413.6 1470.6,414.9 1472.9,414.3 1475.2,414.4 1477.6,414.4 1479.9,414.1 1482.2,416.5 1484.5,416.4 1486.8,415.4 1489.1,414.6 1491.4,415.4 1493.7,418.1 1496,416.2 1498.3,415.8 1500.6,416.3 1503,415.9 1505.3,414.1 1507.6,418.3 1509.9,417.4 1512.2,417.4 1514.5,417.1 1516.8,416.7 1519.1,416.5 1521.4,417.3" stroke="#2c728e" marker-start="url(#ma2)" marker-mid="url(#ma2)" marker-end="url(#ma2)"/><polyline points="1094.9,416.3 1097.2,415 1099.5,417.7 1101.9,415.7 1104.2,413.4 1106.5,411.4 1108.8,413.8 1111.1,411.9 1113.4,414.2 1115.7,411.8 1118,411.3 1120.3,410.9 1122.6,409.8 1124.9,409.6 1127.3,407.6 1129.6,410 1131.9,405.6 1134.2,407.8 1136.5,404.3 1138.8,403.7 1141.1,402.6 1143.4,403.8 1145.7,404 1148,403.5 1150.3,401.5 1152.6,402.2 1155,401.7 1157.3,400.5 1159.6,402.3 1161.9,402 1164.2,398.6 1166.5,398.5 1168.8,397.3 1171.1,395.9 1173.4,395 1175.7,389 1178,378.9 1180.4,370 1182.7,357.2 1185,346.9 1187.3,335.9 1189.6,324.1 1191.9,310.3 1194.2,294.8 1196.5,276.2 1198.8,252.9 1201.1,232.4 1203.4,213.8 1205.8,193.1 1208.1,174.2 1210.4,158.3 1212.7,142.2 1215,128.4 1217.3,113.1 1219.6,109.1 1221.9,104.4 1224.2,106.1 1226.5,105.2 1228.8,101.1 1231.2,102.5 1233.5,102.3 1235.8,103.2 1238.1,103.4 1240.4,99.6 1242.7,102.2 1245,103.5 1247.3,103.3 1249.6,101.7 1251.9,103.6 1254.2,105.1 1256.6,99 1258.9,104.4 1261.2,101.9 1263.5,106.3 1265.8,102.8 1268.1,101.7 1270.4,103 1272.7,107.1 1275,102.8 1277.3,100.5 1279.6,101.5 1281.9,108.2 1284.3,101.6 1286.6,105.6 1288.9,103.1 1291.2,99.9 1293.5,101.5 1295.8,103.1 1298.1,105.2 1300.4,92.4 1302.7,100.8 1305,106.5 1307.3,101 1309.7,117.7 1312,108.1 1314.3,100.4 1316.6,100.9 1318.9,102.6 1321.2,104.8 1323.5,103.3 1325.8,94.2 1328.1,101 1330.4,96.7 1332.7,97.7 1335.1,102.5 1337.4,101 1339.7,99.8 1342,97.1 1344.3,103.3 1346.6,100.7 1348.9,97.8 1351.2,100.6 1353.5,107 1355.8,103.3 1358.1,95.8 1360.5,111.5 1362.8,100 1365.1,101.1 1367.4,100.5 1369.7,97.9 1372,97.8 1374.3,99.2 1376.6,96.1 1378.9,101.4 1381.2,100.3 1383.5,101 1385.8,106.9 1388.2,97.1 1390.5,108.9 1392.8,102.9 1395.1,105.2 1397.4,99.3 1399.7,102.3 1402,108 1404.3,103.4 1406.6,108 1408.9,100.7 1411.2,106.5 1413.6,107.4 1415.9,103.4 1418.2,98.4 1420.5,103.5 1422.8,104.1 1425.1,104.6 1427.4,102.4 1429.7,107.1 1432,102.9 1434.3,106 1436.6,114.5 1439,103 1441.3,101.3 1443.6,102.8 1445.9,106.3 1448.2,113.6 1450.5,107.4 1452.8,106.4 1455.1,101.6 1457.4,104.7 1459.7,108.3 1462,101.9 1464.4,105.1 1466.7,110.6 1469,119.3 1471.3,128.5 1473.6,142.2 1475.9,158.3 1478.2,173.4 1480.5,191.5 1482.8,208.5 1485.1,230.8 1487.4,247 1489.8,270.2 1492.1,285.6 1494.4,307 1496.7,324.9 1499,342.8 1501.3,357 1503.6,371.5 1505.9,383.3 1508.2,391.9 1510.5,397.4 1512.8,401.4 1515.1,403.2 1517.5,404.5 1519.8,406.1 1522.1,407.4 1524.4,405.5 1526.7,407.2 1529,406.6 1531.3,407.6 1533.6,406.6 1535.9,409.3 1538.2,409.5 1540.5,409.6 1542.9,408.9 1545.2,410.1 1547.5,409.3 1549.8,409.5 1552.1,412.4 1554.4,413.1 1556.7,412.1 1559,411.9 1561.3,411.6 1563.6,411.1 1565.9,412.4 1568.3,412.5 1570.6,413 1572.9,412.4 1575.2,414.7 1577.5,413.6 1579.8,412.8 1582.1,414.6 1584.4,414.7 1586.7,418.1 1589,416.5 1591.3,417.3" stroke="#21918c" marker-start="url(#ma3)" marker-mid="url(#ma3)" marker-end="url(#ma3)"/><polyline points="1058.9,410.9 1061.3,409.7 1063.6,407.9 1065.9,408.7 1068.2,406 1070.5,405.1 1072.8,406.6 1075.1,406.1 1077.4,403.2 1079.7,403.7 1082,401.6 1084.3,401.4 1086.6,402.1 1089,401 1091.3,400.4 1093.6,399.3 1095.9,398.3 1098.2,397 1100.5,394.1 1102.8,384 1105.1,378 1107.4,365 1109.7,352.7 1112,339.2 1114.4,327.4 1116.7,316.2 1119,301.3 1121.3,284.5 1123.6,270 1125.9,254.6 1128.2,236.4 1130.5,221.6 1132.8,205 1135.1,190.2 1137.4,171.4 1139.8,162.1 1142.1,147.4 1144.4,133.5 1146.7,121.9 1149,114.4 1151.3,109.8 1153.6,107 1155.9,107.6 1158.2,106.4 1160.5,97.7 1162.8,108.3 1165.2,108.2 1167.5,104.5 1169.8,105.6 1172.1,106.3 1174.4,108.1 1176.7,108 1179,105.9 1181.3,105.9 1183.6,108.8 1185.9,102.6 1188.2,108.6 1190.6,106 1192.9,99 1195.2,104.1 1197.5,105.8 1199.8,95.4 1202.1,106.7 1204.4,107.3 1206.7,109.5 1209,106.8 1211.3,106.9 1213.6,106.7 1215.9,105.1 1218.3,107.8 1220.6,105.9 1222.9,106 1225.2,107.1 1227.5,108.4 1229.8,104.7 1232.1,112.9 1234.4,107 1236.7,107.3 1239,95.3 1241.3,106.2 1243.7,110.8 1246,105.3 1248.3,106.9 1250.6,105.3 1252.9,115 1255.2,101.6 1257.5,103.2 1259.8,107.6 1262.1,104.8 1264.4,104.7 1266.7,106 1269.1,106 1271.4,93.7 1273.7,102.4 1276,106.8 1278.3,102.4 1280.6,103.9 1282.9,104.5 1285.2,104.7 1287.5,105.1 1289.8,101.8 1292.1,102.8 1294.5,102.7 1296.8,104.9 1299.1,104.4 1301.4,102.5 1303.7,104.1 1306,103.2 1308.3,104.4 1310.6,100.8 1312.9,106.3 1315.2,103.4 1317.5,103.9 1319.9,106.8 1322.2,103.1 1324.5,102.6 1326.8,102.1 1329.1,101.3 1331.4,104.7 1333.7,105 1336,102.7 1338.3,103 1340.6,106.2 1342.9,103.5 1345.2,103.7 1347.6,112.2 1349.9,100.5 1352.2,101.9 1354.5,99.8 1356.8,103.9 1359.1,104.1 1361.4,101.9 1363.7,102.6 1366,100.8 1368.3,106.5 1370.6,101.9 1373,103.8 1375.3,102 1377.6,104 1379.9,104.2 1382.2,104.1 1384.5,99.7 1386.8,105.7 1389.1,92.8 1391.4,100.5 1393.7,103.8 1396,115.5 1398.4,105.7 1400.7,102.3 1403,102.2 1405.3,101.7 1407.6,103.8 1409.9,103.6 1412.2,95 1414.5,103.6 1416.8,105.1 1419.1,106.8 1421.4,101.8 1423.8,108.3 1426.1,103.5 1428.4,104.2 1430.7,106.1 1433,105 1435.3,114.3 1437.6,101.6 1439.9,105.9 1442.2,105.2 1444.5,100.6 1446.8,105.4 1449.2,105.6 1451.5,106.6 1453.8,104.9 1456.1,105.5 1458.4,104.2 1460.7,103.3 1463,102.8 1465.3,94.9 1467.6,104 1469.9,97 1472.2,104.5 1474.5,104.1 1476.9,95.3 1479.2,103 1481.5,102.4 1483.8,93.5 1486.1,117 1488.4,103.8 1490.7,105.6 1493,105.5 1495.3,104.4 1497.6,107.5 1499.9,106.4 1502.3,104.4 1504.6,105.5 1506.9,113.6 1509.2,102.4 1511.5,109.2 1513.8,106.4 1516.1,107.5 1518.4,104.7 1520.7,106.9 1523,107.8 1525.3,98.5 1527.7,106.3 1530,106.7 1532.3,104.4 1534.6,107.8 1536.9,109.2 1539.2,116.1 1541.5,120.4 1543.8,135 1546.1,143.5 1548.4,158.6 1550.7,177.1 1553.1,198.8 1555.4,213.9 1557.7,233.7 1560,250.4 1562.3,272.4 1564.6,289.5 1566.9,306.6 1569.2,324.1 1571.5,338.4 1573.8,354.1 1576.1,368.5 1578.5,383.2 1580.8,390.6 1583.1,392.9 1585.4,393.3 1587.7,396.3 1590,397.1 1592.3,398.2 1594.6,401.2 1596.9,399.9 1599.2,399.2 1601.5,402.4 1603.8,403.4 1606.2,404.2 1608.5,404 1610.8,402.8 1613.1,403.6 1615.4,406.1 1617.7,406.5 1620,405.7 1622.3,407.9 1624.6,407.9 1626.9,409.8 1629.2,410.4 1631.6,409.7 1633.9,411.2" stroke="#28ae80" marker-start="url(#ma4)" marker-mid="url(#ma4)" marker-end="url(#ma4)"/><polyline points="1105.8,410.8 1108.1,409 1110.4,410.2 1112.8,407.6 1115.1,407.1 1117.4,407.3 1119.7,406.4 1122,405.5 1124.3,404.5 1126.6,405.2 1128.9,402.7 1131.2,405.1 1133.5,401.7 1135.8,404.9 1138.2,402.8 1140.5,400.5 1142.8,401.1 1145.1,400.1 1147.4,399.4 1149.7,399.1 1152,400.7 1154.3,399.8 1156.6,398.5 1158.9,397.5 1161.2,397 1163.6,397 1165.9,396.7 1168.2,394.3 1170.5,394.8 1172.8,392.7 1175.1,388.8 1177.4,381.2 1179.7,370.2 1182,358.7 1184.3,347.4 1186.6,337.1 1189,327.6 1191.3,313.1 1193.6,300.6 1195.9,282 1198.2,261 1200.5,239.3 1202.8,217.2 1205.1,198.4 1207.4,179.6 1209.7,164.9 1212,145.7 1214.3,126 1216.7,121.1 1219,111.2 1221.3,108.5 1223.6,109.2 1225.9,104.9 1228.2,112.1 1230.5,104.4 1232.8,104.7 1235.1,99.8 1237.4,107.3 1239.7,105 1242.1,100.2 1244.4,102.1 1246.7,109.5 1249,95.9 1251.3,100.6 1253.6,101.3 1255.9,106.4 1258.2,105.8 1260.5,99.2 1262.8,102.2 1265.1,102.8 1267.5,100 1269.8,107.6 1272.1,91.3 1274.4,94.1 1276.7,98.5 1279,102.5 1281.3,103.9 1283.6,104.6 1285.9,99.7 1288.2,107.1 1290.5,95.9 1292.9,112.6 1295.2,99.7 1297.5,116.1 1299.8,103.8 1302.1,89.7 1304.4,100 1306.7,98.5 1309,105.2 1311.3,106.7 1313.6,96.5 1315.9,96.3 1318.3,96.1 1320.6,102.6 1322.9,101.2 1325.2,99.1 1327.5,106.8 1329.8,98.1 1332.1,95.8 1334.4,95.3 1336.7,89.9 1339,99.8 1341.3,97.4 1343.6,99.3 1346,102 1348.3,89.5 1350.6,99.3 1352.9,89.9 1355.2,100.4 1357.5,98.1 1359.8,89.5 1362.1,101.3 1364.4,97.2 1366.7,92 1369,100.5 1371.4,98.3 1373.7,97.5 1376,95.1 1378.3,95.7 1380.6,104.9 1382.9,92.5 1385.2,100.1 1387.5,82.9 1389.8,93 1392.1,101.6 1394.4,99.8 1396.8,97.8 1399.1,99.6 1401.4,97.3 1403.7,109 1406,99 1408.3,99.9 1410.6,99.7 1412.9,97.3 1415.2,96.4 1417.5,97.8 1419.8,103.8 1422.2,102.8 1424.5,100.6 1426.8,99.8 1429.1,102.3 1431.4,97.6 1433.7,102.3 1436,102.4 1438.3,103.4 1440.6,99.9 1442.9,103.6 1445.2,98.8 1447.6,100.2 1449.9,99 1452.2,101.3 1454.5,102.2 1456.8,103.6 1459.1,99.7 1461.4,97.9 1463.7,97.8 1466,106.9 1468.3,118.6 1470.6,128.8 1472.9,136.7 1475.3,153.2 1477.6,172 1479.9,185.6 1482.2,201.7 1484.5,226.7 1486.8,243 1489.1,263 1491.4,281.9 1493.7,301.9 1496,323.1 1498.3,339.8 1500.7,354.8 1503,369.9 1505.3,381.5 1507.6,386.5 1509.9,395.7 1512.2,395.5 1514.5,400.1 1516.8,400.6 1519.1,400.3 1521.4,399.5 1523.7,400.6 1526.1,401.8 1528.4,401.3 1530.7,400.7 1533,402.6 1535.3,402.8 1537.6,405.3 1539.9,404.9 1542.2,404 1544.5,403.2 1546.8,407.2 1549.1,405.5 1551.5,405.5 1553.8,405.5 1556.1,408.5 1558.4,408.3" stroke="#5ec962" marker-start="url(#ma5)" marker-mid="url(#ma5)" marker-end="url(#ma5)"/><polyline points="995.2,397.4 997.5,395.2 999.8,394 1002.1,394.8 1004.4,393.8 1006.7,394.3 1009,392.2 1011.3,390.2 1013.6,391 1015.9,389.8 1018.2,388 1020.6,385.9 1022.9,387.6 1025.2,385.7 1027.5,384.5 1029.8,384.9 1032.1,383 1034.4,381.4 1036.7,377.9 1039,372.4 1041.3,357.1 1043.6,342 1046,326.8 1048.3,310.8 1050.6,296.2 1052.9,276 1055.2,259.1 1057.5,244.1 1059.8,219.5 1062.1,209.2 1064.4,197.5 1066.7,182.2 1069,173.8 1071.3,159.4 1073.7,161.5 1076,133.4 1078.3,127.6 1080.6,111.3 1082.9,109.5 1085.2,98.5 1087.5,112 1089.8,104.9 1092.1,97.5 1094.4,104.3 1096.7,115.1 1099.1,97.3 1101.4,103.1 1103.7,110.3 1106,104.6 1108.3,100.8 1110.6,114.8 1112.9,101.1 1115.2,104.5 1117.5,103.6 1119.8,106.6 1122.1,110.1 1124.5,93.7 1126.8,101.9 1129.1,106.6 1131.4,100.9 1133.7,91.3 1136,102.6 1138.3,111.3 1140.6,102.9 1142.9,101.2 1145.2,130.3 1147.5,87 1149.9,99 1152.2,88.7 1154.5,98.3 1156.8,92.5 1159.1,104.7 1161.4,110.2 1163.7,98.5 1166,101.5 1168.3,102.7 1170.6,119.7 1172.9,96.7 1175.3,87.9 1177.6,106.6 1179.9,98.9 1182.2,94.7 1184.5,90.2 1186.8,94.4 1189.1,95.6 1191.4,95.5 1193.7,95.9 1196,110.5 1198.3,104.3 1200.6,94.9 1203,107.7 1205.3,98.4 1207.6,92.6 1209.9,95.9 1212.2,97.4 1214.5,94 1216.8,100 1219.1,100.7 1221.4,115.1 1223.7,98.5 1226,93 1228.4,94.1 1230.7,102 1233,94.8 1235.3,94.7 1237.6,82.5 1239.9,89 1242.2,87 1244.5,107.2 1246.8,95 1249.1,94.1 1251.4,101.7 1253.8,90.8 1256.1,85.2 1258.4,91.4 1260.7,97.6 1263,102 1265.3,103.6 1267.6,99.1 1269.9,99 1272.2,93.5 1274.5,102 1276.8,112.1 1279.2,100 1281.5,102 1283.8,106.1 1286.1,114.1 1288.4,104.4 1290.7,109.9 1293,95.4 1295.3,100.7 1297.6,90.7 1299.9,88.8 1302.2,100.3 1304.5,116.3 1306.9,103.7 1309.2,89.4 1311.5,90.8 1313.8,93.8 1316.1,101.8 1318.4,93.1 1320.7,108.1 1323,97.2 1325.3,97.2 1327.6,107.5 1329.9,82.3 1332.3,96.7 1334.6,94.3 1336.9,97 1339.2,109.8 1341.5,101.2 1343.8,96.3 1346.1,88.9 1348.4,91.1 1350.7,90.2 1353,85.8 1355.3,94.2 1357.7,90.7 1360,96.3 1362.3,98.1 1364.6,74.1 1366.9,97.6 1369.2,101.3 1371.5,85.8 1373.8,92.2 1376.1,89.9 1378.4,76.9 1380.7,95 1383.1,109.8 1385.4,99.2 1387.7,97.7 1390,99.2 1392.3,96.2 1394.6,98.8 1396.9,95 1399.2,90.8 1401.5,97.1 1403.8,96.6 1406.1,90.3 1408.5,96.1 1410.8,114.8 1413.1,96.8 1415.4,100.7 1417.7,102.3 1420,97.1 1422.3,102.6 1424.6,91.3 1426.9,110 1429.2,76.6 1431.5,96.5 1433.8,89.4 1436.2,87.4 1438.5,94.1 1440.8,95.9 1443.1,88.2 1445.4,79.3 1447.7,98.2 1450,83.6 1452.3,107 1454.6,90.3 1456.9,94.9 1459.2,93.3 1461.6,100.3 1463.9,93.6 1466.2,87.9 1468.5,97.5 1470.8,88.9 1473.1,105.4 1475.4,92.6 1477.7,86.7 1480,90.4 1482.3,91.9 1484.6,102.7 1487,89.6 1489.3,106.1 1491.6,90 1493.9,86.9 1496.2,89.6 1498.5,93.9 1500.8,89.2 1503.1,87.6 1505.4,93.6 1507.7,96.8 1510,94.8 1512.4,93.5 1514.7,93.3 1517,85.2 1519.3,89.1 1521.6,76.3 1523.9,87 1526.2,88 1528.5,83.6 1530.8,97.5 1533.1,85.3 1535.4,83.3 1537.8,76.8 1540.1,98.5 1542.4,90.4 1544.7,103.7 1547,75.5 1549.3,90.4 1551.6,96.2 1553.9,82 1556.2,99.8 1558.5,102.2 1560.8,98.8 1563.1,97.8 1565.5,92 1567.8,107.6 1570.1,96.7 1572.4,93.3 1574.7,89.3 1577,95.6 1579.3,87.5 1581.6,97 1583.9,100.7 1586.2,94.8 1588.5,88.3 1590.9,96.3 1593.2,98.9 1595.5,98.4 1597.8,109.2 1600.1,110.1 1602.4,109.6 1604.7,97.3 1607,98.4 1609.3,110 1611.6,104.4 1613.9,125.4 1616.3,133.4 1618.6,142.9 1620.9,164.8 1623.2,182.1 1625.5,193.6 1627.8,213.7 1630.1,231.1 1632.4,244.7 1634.7,260.9 1637,278.9 1639.3,293.1 1641.7,307.3 1644,325.4 1646.3,343.6 1648.6,361.4 1650.9,373.7 1653.2,379.8 1655.5,383.9 1657.8,387.9 1660.1,387.2 1662.4,389.8 1664.7,388.4 1667.1,390.2" stroke="#addc30" marker-start="url(#ma6)" marker-mid="url(#ma6)" marker-end="url(#ma6)"/></g><rect x="990.6" y="46.8" width="708.6" height="393.5" fill="none" stroke="#000" stroke-width="1.2"/><path d="M1072.3 440.3v5.2M1208.6 440.3v5.2M1344.9 440.3v5.2M1481.2 440.3v5.2M1617.5 440.3v5.2M990.6 424.5h-5.2M990.6 357.48h-5.2M990.6 290.46h-5.2M990.6 223.44h-5.2M990.6 156.42h-5.2M990.6 89.4h-5.2" stroke="#000" stroke-width="1.2"/><text x="1072.3" y="473.1" font-size="30" text-anchor="middle">−10</text><text x="1208.6" y="473.1" font-size="30" text-anchor="middle">−5</text><text x="1344.9" y="473.1" font-size="30" text-anchor="middle">0</text><text x="1481.2" y="473.1" font-size="30" text-anchor="middle">5</text><text x="1617.5" y="473.1" font-size="30" text-anchor="middle">10</text><text x="1346.1" y="37.9" font-size="30" text-anchor="middle"><tspan font-style="italic">y</tspan>-profile</text><text x="1346.1" y="507.9" font-size="30" text-anchor="middle"><tspan font-style="italic">y</tspan> / mm</text><g stroke="#b0b0b0" stroke-width="1.2" stroke-linecap="square" clip-path="url(#cB1)"><line x1="104.52" y1="580.5" x2="104.52" y2="973.1"/><line x1="200.59" y1="580.5" x2="200.59" y2="973.1"/><line x1="296.66" y1="580.5" x2="296.66" y2="973.1"/><line x1="392.73" y1="580.5" x2="392.73" y2="973.1"/><line x1="488.8" y1="580.5" x2="488.8" y2="973.1"/><line x1="584.87" y1="580.5" x2="584.87" y2="973.1"/><line x1="680.94" y1="580.5" x2="680.94" y2="973.1"/><line x1="777.01" y1="580.5" x2="777.01" y2="973.1"/><line x1="873.08" y1="580.5" x2="873.08" y2="973.1"/><line x1="104.5" y1="957.1" x2="873.1" y2="957.1"/><line x1="104.5" y1="890.16" x2="873.1" y2="890.16"/><line x1="104.5" y1="823.22" x2="873.1" y2="823.22"/><line x1="104.5" y1="756.28" x2="873.1" y2="756.28"/><line x1="104.5" y1="689.34" x2="873.1" y2="689.34"/><line x1="104.5" y1="622.4" x2="873.1" y2="622.4"/></g><g fill="none" stroke-width="3" stroke-linejoin="round" stroke-linecap="square" clip-path="url(#cB1)"><polyline points="75.7,955.9 83.8,952.2 92,950.6 100.1,952.7 108.2,950.3 116.4,950.8 124.5,951 132.7,952.9 140.8,951.1 148.9,950.1 157.1,951 165.2,949.2 173.3,950.7 181.5,948 189.6,948 197.8,949 205.9,949.4 214,946.5 222.2,948.7 230.3,949.5 238.4,944 246.6,941.8 254.7,940 262.9,933.5 271,921.4 279.1,906.1 287.3,887.7 295.4,862.9 303.5,838.3 311.7,808.5 319.8,778.5 327.9,754 336.1,725.9 344.2,696.6 352.4,677.5 360.5,668.7 368.6,644.4 376.8,651.6 384.9,639.7 393,632.8 401.2,625.4 409.3,625.1 417.5,610 425.6,623.3 433.7,609.8 441.9,629.5 450,623.8 458.1,614.4 466.3,627.2 474.4,606.3 482.6,623.9 490.7,619.6 498.8,622.3 507,621.8 515.1,615.8 523.2,613.6 531.4,623.3 539.5,609.8 547.7,619.4 555.8,625.6 563.9,626.3 572.1,621.6 580.2,614.1 588.3,630.2 596.5,650.5 604.6,658.4 612.7,661.6 620.9,677.3 629,694.2 637.2,724.1 645.3,748.3 653.4,769.7 661.6,800.5 669.7,830.8 677.8,855.5 686,886.8 694.1,906.8 702.3,926.5 710.4,934.4 718.5,944.2 726.7,944.8 734.8,946.2 742.9,950.4 751.1,946.6 759.2,947.1 767.4,947.9 775.5,948.7 783.6,949.1 791.8,950.4 799.9,951.7 808,952.8 816.2,949.6 824.3,947.4 832.5,951.4 840.6,948 848.7,951.3 856.9,951.7 865,951.9 873.1,952.4 881.3,956.6 889.4,955.5 897.5,954.8" stroke="#482475" marker-start="url(#mb0)" marker-mid="url(#mb0)" marker-end="url(#mb0)"/><polyline points="75.7,948.2 83.8,951.5 92,950.7 100.1,951.1 108.2,950.6 116.4,952 124.5,952.6 132.7,949.9 140.8,954 148.9,949.1 157.1,949.2 165.2,950.8 173.3,949.2 181.5,950.5 189.6,950.5 197.8,947.1 205.9,948.1 214,944.8 222.2,943.5 230.3,946.2 238.4,945.5 246.6,940 254.7,940.1 262.9,931.2 271,918.7 279.1,903.3 287.3,884.6 295.4,861 303.5,833.1 311.7,805.8 319.8,775.8 327.9,748.3 336.1,724.8 344.2,703.8 352.4,686.9 360.5,663.7 368.6,654 376.8,628.2 384.9,629.8 393,611.6 401.2,629 409.3,619.7 417.5,628 425.6,619.6 433.7,623 441.9,619.3 450,617.9 458.1,612.7 466.3,602.1 474.4,620.7 482.6,621.5 490.7,618.7 498.8,615.4 507,619.9 515.1,613.1 523.2,601.6 531.4,624.2 539.5,605.9 547.7,627 555.8,615.9 563.9,618.3 572.1,608 580.2,627.7 588.3,629.7 596.5,636 604.6,645.5 612.7,666.6 620.9,671.8 629,708.2 637.2,721.5 645.3,741.3 653.4,770 661.6,799 669.7,822.1 677.8,851.6 686,883.5 694.1,901 702.3,918.1 710.4,934.1 718.5,938.3 726.7,947.5 734.8,947.8 742.9,947.9 751.1,947.2 759.2,947.6 767.4,948.1 775.5,950.2 783.6,946.4 791.8,948.2 799.9,950.4 808,950.8 816.2,947.7 824.3,949.3 832.5,952.1 840.6,951.5 848.7,949.4 856.9,954.7 865,953.1 873.1,950.7 881.3,954.2 889.4,949.7 897.5,954.5" stroke="#414487" marker-start="url(#mb1)" marker-mid="url(#mb1)" marker-end="url(#mb1)"/><polyline points="75.7,949.4 83.8,950.4 92,950 100.1,953 108.2,949.1 116.4,950.4 124.5,951.6 132.7,952 140.8,950.4 148.9,953.7 157.1,948 165.2,949.4 173.3,950 181.5,950.7 189.6,949.6 197.8,946.6 205.9,951 214,947.6 222.2,948.2 230.3,946.3 238.4,941.4 246.6,938 254.7,933.6 262.9,924.6 271,910.4 279.1,896.3 287.3,881.4 295.4,853.2 303.5,826.8 311.7,801.1 319.8,774.8 327.9,744.6 336.1,719.1 344.2,685.6 352.4,686.1 360.5,669.3 368.6,667.9 376.8,632.8 384.9,630.3 393,631.4 401.2,615.1 409.3,633 417.5,615.5 425.6,624.4 433.7,608.8 441.9,614.2 450,611.3 458.1,618.8 466.3,625 474.4,609.1 482.6,607.7 490.7,622.7 498.8,615 507,601.9 515.1,618.1 523.2,616.5 531.4,625.6 539.5,611.7 547.7,628.9 555.8,610.5 563.9,629.4 572.1,623.7 580.2,627.8 588.3,648.3 596.5,653.9 604.6,663.8 612.7,671.8 620.9,683.6 629,702.2 637.2,720 645.3,738.2 653.4,761.6 661.6,789.7 669.7,818.4 677.8,844.2 686,866.9 694.1,894.7 702.3,913.3 710.4,925.3 718.5,934.8 726.7,943 734.8,946.2 742.9,946.9 751.1,949.2 759.2,949.7 767.4,946.3 775.5,947.2 783.6,947.8 791.8,951.1 799.9,949.7 808,949 816.2,951 824.3,949.1 832.5,947 840.6,951.6 848.7,951.1 856.9,951 865,952 873.1,951.2 881.3,952.3 889.4,951.4 897.5,952.2" stroke="#355f8d" marker-start="url(#mb2)" marker-mid="url(#mb2)" marker-end="url(#mb2)"/><polyline points="75.7,953.7 83.8,951.9 92,950.6 100.1,951.7 108.2,952.6 116.4,946.6 124.5,949.6 132.7,949.3 140.8,951.4 148.9,950.6 157.1,948.3 165.2,949.3 173.3,947.2 181.5,945.9 189.6,950.3 197.8,950.4 205.9,946.1 214,947.5 222.2,945.5 230.3,942.3 238.4,938.3 246.6,937.6 254.7,926.3 262.9,915.3 271,905.7 279.1,890.9 287.3,871.6 295.4,846.9 303.5,823.8 311.7,797.2 319.8,774.2 327.9,745.3 336.1,726 344.2,709.9 352.4,679.5 360.5,674.1 368.6,659.5 376.8,644.3 384.9,636.6 393,626.7 401.2,619.5 409.3,610.6 417.5,614.3 425.6,619.1 433.7,626.5 441.9,619.1 450,617.5 458.1,606.4 466.3,621.1 474.4,633.3 482.6,622.3 490.7,621.7 498.8,634 507,630.1 515.1,620.7 523.2,617 531.4,615.5 539.5,616.8 547.7,628.3 555.8,620.5 563.9,618.4 572.1,626.5 580.2,634.7 588.3,640.1 596.5,637.6 604.6,646 612.7,667 620.9,675.9 629,700.8 637.2,715.3 645.3,737.3 653.4,758.2 661.6,783.4 669.7,809.7 677.8,834 686,855.1 694.1,880.1 702.3,903.6 710.4,918.4 718.5,930 726.7,939 734.8,942.9 742.9,948 751.1,947.5 759.2,947.6 767.4,946.3 775.5,950.3 783.6,948.6 791.8,951.5 799.9,947.8 808,948.5 816.2,949.3 824.3,948.6 832.5,952.7 840.6,949.3 848.7,951.3 856.9,947.8 865,950.3 873.1,948 881.3,948.3 889.4,952.2 897.5,952.6" stroke="#2a788e" marker-start="url(#mb3)" marker-mid="url(#mb3)" marker-end="url(#mb3)"/><polyline points="75.7,951.7 83.8,951.7 92,951.6 100.1,948.9 108.2,949.2 116.4,951.1 124.5,946.1 132.7,949.9 140.8,949.8 148.9,949 157.1,947.2 165.2,949.5 173.3,951 181.5,948.8 189.6,946.8 197.8,948 205.9,946.6 214,947.7 222.2,944 230.3,942.1 238.4,933.8 246.6,927 254.7,923.8 262.9,911.5 271,898.6 279.1,882.4 287.3,863.4 295.4,839.6 303.5,813.9 311.7,788.8 319.8,768.6 327.9,743.7 336.1,716.2 344.2,696.7 352.4,683.3 360.5,672.3 368.6,652.6 376.8,643.4 384.9,644.6 393,644.2 401.2,618.5 409.3,629.3 417.5,628.4 425.6,623.2 433.7,623.8 441.9,627.5 450,624.6 458.1,629 466.3,613.5 474.4,616 482.6,635.8 490.7,614.8 498.8,612.2 507,615 515.1,642.5 523.2,625.1 531.4,620.2 539.5,614 547.7,620.5 555.8,623.3 563.9,627.8 572.1,624.3 580.2,627.7 588.3,647.4 596.5,651.2 604.6,648.9 612.7,677.9 620.9,681.6 629,695.3 637.2,715.7 645.3,738.9 653.4,755.2 661.6,779.3 669.7,801.7 677.8,825.1 686,848.5 694.1,868.4 702.3,889.5 710.4,906.3 718.5,920.9 726.7,930.7 734.8,940.7 742.9,942.6 751.1,948.3 759.2,946.8 767.4,948.2 775.5,948.9 783.6,948.8 791.8,948 799.9,950 808,950 816.2,947.2 824.3,949.3 832.5,949.5 840.6,952.2 848.7,951.3 856.9,949.6 865,951.3 873.1,948.9 881.3,950.3 889.4,953.4 897.5,950" stroke="#21918c" marker-start="url(#mb4)" marker-mid="url(#mb4)" marker-end="url(#mb4)"/><polyline points="75.7,950.7 83.8,951.2 92,951.2 100.1,949.7 108.2,947.9 116.4,949.6 124.5,951.8 132.7,948.2 140.8,949.8 148.9,949 157.1,945.6 165.2,943.9 173.3,947.1 181.5,946.3 189.6,950 197.8,945 205.9,948.7 214,944.4 222.2,939.9 230.3,936.7 238.4,933.1 246.6,923.1 254.7,913.2 262.9,906.5 271,890.1 279.1,871.1 287.3,851.1 295.4,830.2 303.5,809.5 311.7,786.6 319.8,765.1 327.9,736.6 336.1,727 344.2,705.8 352.4,682.7 360.5,670.5 368.6,669.9 376.8,647.6 384.9,637.8 393,638.1 401.2,629.8 409.3,622.6 417.5,629.4 425.6,621.2 433.7,607.5 441.9,630.3 450,622.5 458.1,597.8 466.3,627.8 474.4,626.6 482.6,618.1 490.7,622.8 498.8,609 507,619.3 515.1,613.3 523.2,632.7 531.4,640 539.5,613 547.7,627.8 555.8,634 563.9,623 572.1,633.7 580.2,641.8 588.3,653.4 596.5,653.1 604.6,676.2 612.7,683.9 620.9,673.8 629,702.9 637.2,716 645.3,735.4 653.4,758.8 661.6,778.7 669.7,793.5 677.8,818.6 686,832.7 694.1,854.3 702.3,878.1 710.4,897.7 718.5,911.2 726.7,920.8 734.8,930.6 742.9,937.8 751.1,943.8 759.2,947.2 767.4,947.8 775.5,949.3 783.6,947.8 791.8,950.7 799.9,950.1 808,949.6 816.2,947.1 824.3,948.5 832.5,949 840.6,951 848.7,950 856.9,950.7 865,951.2 873.1,950.9 881.3,947.3 889.4,949.6 897.5,948.6" stroke="#22a884" marker-start="url(#mb5)" marker-mid="url(#mb5)" marker-end="url(#mb5)"/><polyline points="75.7,945.4 83.8,950.6 92,948 100.1,947.5 108.2,950.5 116.4,949.4 124.5,947.8 132.7,947.8 140.8,945.3 148.9,947.7 157.1,950.2 165.2,947.7 173.3,944.8 181.5,950.5 189.6,946 197.8,948.7 205.9,939.4 214,936.5 222.2,933.7 230.3,928.8 238.4,924.1 246.6,913.7 254.7,902.5 262.9,891 271,875.1 279.1,860.4 287.3,841.2 295.4,820 303.5,801.1 311.7,781.9 319.8,762.5 327.9,735.7 336.1,727.2 344.2,703.4 352.4,686.3 360.5,690.4 368.6,664 376.8,649.6 384.9,641.9 393,638.3 401.2,609.6 409.3,626 417.5,612.5 425.6,644.7 433.7,621.5 441.9,636.2 450,618 458.1,631.3 466.3,625.2 474.4,633.8 482.6,640.4 490.7,620.4 498.8,634.9 507,619.3 515.1,626 523.2,632.7 531.4,622.1 539.5,626.7 547.7,632.3 555.8,630.4 563.9,621.7 572.1,621.8 580.2,641.4 588.3,660 596.5,667.7 604.6,671.1 612.7,675.6 620.9,693.6 629,706.4 637.2,725.4 645.3,729.3 653.4,749.3 661.6,765.4 669.7,784.4 677.8,798.7 686,822 694.1,838.5 702.3,857.1 710.4,874.1 718.5,890.9 726.7,907.9 734.8,920.6 742.9,926.3 751.1,934.2 759.2,942.6 767.4,945.6 775.5,948.5 783.6,950.6 791.8,947.7 799.9,947.7 808,946.4 816.2,949 824.3,946.2 832.5,946.5 840.6,949.3 848.7,946.4 856.9,948.5 865,948.3 873.1,949 881.3,949.5 889.4,946.6 897.5,947.3" stroke="#44bf70" marker-start="url(#mb6)" marker-mid="url(#mb6)" marker-end="url(#mb6)"/><polyline points="75.7,946.8 83.8,948.7 92,949.9 100.1,946.8 108.2,948.8 116.4,947.8 124.5,947.5 132.7,947 140.8,945.7 148.9,949 157.1,947.9 165.2,945.1 173.3,947.9 181.5,943.8 189.6,939.9 197.8,936.4 205.9,933.2 214,930.8 222.2,924.5 230.3,919.4 238.4,910.4 246.6,904.9 254.7,893.2 262.9,878.3 271,862.3 279.1,847.7 287.3,828.4 295.4,811.9 303.5,788.6 311.7,773.6 319.8,753.6 327.9,743.1 336.1,713.4 344.2,702.8 352.4,687.1 360.5,679.4 368.6,661.8 376.8,657.3 384.9,633 393,629.5 401.2,630.9 409.3,634.2 417.5,635.7 425.6,630.1 433.7,614.4 441.9,628.6 450,639.6 458.1,622.8 466.3,636 474.4,637.9 482.6,637.6 490.7,622.3 498.8,624.5 507,630.4 515.1,634.6 523.2,628 531.4,631 539.5,627.8 547.7,614.5 555.8,617.2 563.9,622.2 572.1,639.2 580.2,636.7 588.3,657.8 596.5,648.8 604.6,676.4 612.7,678.3 620.9,706.2 629,710.4 637.2,723.6 645.3,734.6 653.4,750 661.6,759.5 669.7,772 677.8,793.6 686,809.7 694.1,820.9 702.3,841.7 710.4,857.4 718.5,873.6 726.7,887.3 734.8,899.7 742.9,914 751.1,922.9 759.2,932.8 767.4,933.1 775.5,939.8 783.6,946.5 791.8,949 799.9,945 808,945.3 816.2,947.1 824.3,946.3 832.5,945.7 840.6,946.1 848.7,944.4 856.9,944.9 865,948.8 873.1,947.2 881.3,944.9 889.4,949.4 897.5,947" stroke="#7ad151" marker-start="url(#mb7)" marker-mid="url(#mb7)" marker-end="url(#mb7)"/><polyline points="75.7,948 83.8,945.8 92,944.2 100.1,944 108.2,946.8 116.4,945.4 124.5,946.3 132.7,948.5 140.8,945 148.9,943.3 157.1,941.9 165.2,941.3 173.3,940.9 181.5,937.5 189.6,935.2 197.8,929.8 205.9,928.7 214,921.1 222.2,913.3 230.3,906.2 238.4,899.5 246.6,887.5 254.7,878.9 262.9,867.2 271,852 279.1,837.4 287.3,820.9 295.4,802.1 303.5,785.8 311.7,771.1 319.8,750 327.9,731.5 336.1,727.8 344.2,705.6 352.4,697.7 360.5,679.6 368.6,671.4 376.8,653.3 384.9,655.9 393,646.7 401.2,639.1 409.3,620 417.5,617.8 425.6,637.7 433.7,616.1 441.9,616.5 450,603.7 458.1,622.6 466.3,615.3 474.4,614.1 482.6,628.6 490.7,628.7 498.8,627.8 507,636 515.1,632.3 523.2,615.8 531.4,607.8 539.5,643.4 547.7,635.4 555.8,632.1 563.9,629.2 572.1,629.7 580.2,649.9 588.3,662.4 596.5,664.4 604.6,662.8 612.7,683.1 620.9,702.8 629,699.2 637.2,716.9 645.3,725.6 653.4,743.1 661.6,753 669.7,769.7 677.8,784.7 686,797.6 694.1,811.6 702.3,829 710.4,842 718.5,855.6 726.7,872 734.8,883 742.9,896.4 751.1,907.4 759.2,914.5 767.4,926.9 775.5,934.6 783.6,937.9 791.8,941.8 799.9,943.6 808,948.1 816.2,942.2 824.3,945.4 832.5,943.1 840.6,946.4 848.7,945.2 856.9,945 865,943.6 873.1,946.9 881.3,945.8 889.4,947.3 897.5,945.6" stroke="#bddf26" marker-start="url(#mb8)" marker-mid="url(#mb8)" marker-end="url(#mb8)"/></g><rect x="104.5" y="580.5" width="768.6" height="392.6" fill="none" stroke="#000" stroke-width="1.2"/><path d="M104.52 973.1v5.2M200.59 973.1v5.2M296.66 973.1v5.2M392.73 973.1v5.2M488.8 973.1v5.2M584.87 973.1v5.2M680.94 973.1v5.2M777.01 973.1v5.2M873.08 973.1v5.2M104.5 957.1h-5.2M104.5 890.16h-5.2M104.5 823.22h-5.2M104.5 756.28h-5.2M104.5 689.34h-5.2M104.5 622.4h-5.2" stroke="#000" stroke-width="1.2"/><text x="104.52" y="1006.5" font-size="30" text-anchor="middle">−4</text><text x="200.59" y="1006.5" font-size="30" text-anchor="middle">−3</text><text x="296.66" y="1006.5" font-size="30" text-anchor="middle">−2</text><text x="392.73" y="1006.5" font-size="30" text-anchor="middle">−1</text><text x="488.8" y="1006.5" font-size="30" text-anchor="middle">0</text><text x="584.87" y="1006.5" font-size="30" text-anchor="middle">1</text><text x="680.94" y="1006.5" font-size="30" text-anchor="middle">2</text><text x="777.01" y="1006.5" font-size="30" text-anchor="middle">3</text><text x="873.08" y="1006.5" font-size="30" text-anchor="middle">4</text><text x="94.2" y="968.9" font-size="30" text-anchor="end">0.0</text><text x="94.2" y="901.96" font-size="30" text-anchor="end">0.2</text><text x="94.2" y="835.02" font-size="30" text-anchor="end">0.4</text><text x="94.2" y="768.08" font-size="30" text-anchor="end">0.6</text><text x="94.2" y="701.14" font-size="30" text-anchor="end">0.8</text><text x="94.2" y="634.2" font-size="30" text-anchor="end">1.0</text><text x="0" y="0" font-size="30" text-anchor="middle" transform="translate(34.4 777.8) rotate(-90)">Relative dose</text><text x="490" y="570.7" font-size="30" text-anchor="middle"><tspan font-style="italic">x</tspan>-profile</text><text x="490" y="1041.9" font-size="30" text-anchor="middle"><tspan font-style="italic">x</tspan> / mm</text><g stroke="#b0b0b0" stroke-width="1.2" stroke-linecap="square" clip-path="url(#cB2)"><line x1="921.02" y1="580.5" x2="921.02" y2="973.1"/><line x1="1017.09" y1="580.5" x2="1017.09" y2="973.1"/><line x1="1113.16" y1="580.5" x2="1113.16" y2="973.1"/><line x1="1209.23" y1="580.5" x2="1209.23" y2="973.1"/><line x1="1305.3" y1="580.5" x2="1305.3" y2="973.1"/><line x1="1401.37" y1="580.5" x2="1401.37" y2="973.1"/><line x1="1497.44" y1="580.5" x2="1497.44" y2="973.1"/><line x1="1593.51" y1="580.5" x2="1593.51" y2="973.1"/><line x1="1689.58" y1="580.5" x2="1689.58" y2="973.1"/><line x1="921" y1="957.1" x2="1689.6" y2="957.1"/><line x1="921" y1="890.16" x2="1689.6" y2="890.16"/><line x1="921" y1="823.22" x2="1689.6" y2="823.22"/><line x1="921" y1="756.28" x2="1689.6" y2="756.28"/><line x1="921" y1="689.34" x2="1689.6" y2="689.34"/><line x1="921" y1="622.4" x2="1689.6" y2="622.4"/></g><g fill="none" stroke-width="3" stroke-linejoin="round" stroke-linecap="square" clip-path="url(#cB2)"><polyline points="892.2,955.4 900.3,949.6 908.5,951.3 916.6,952.6 924.7,951.3 932.9,951.7 941,951.8 949.2,950.3 957.3,952 965.4,949.2 973.6,950.1 981.7,947.8 989.8,949.3 998,947.7 1006.1,945.9 1014.3,949.7 1022.4,945.5 1030.5,950 1038.7,949.4 1046.8,947.2 1054.9,948.6 1063.1,942.2 1071.2,941.4 1079.4,930.1 1087.5,921.5 1095.6,909.3 1103.8,888.9 1111.9,863.5 1120,841.2 1128.2,812.4 1136.3,784 1144.4,763.1 1152.6,734.8 1160.7,704.4 1168.9,696.2 1177,681.6 1185.1,645.5 1193.3,649.7 1201.4,637.7 1209.5,627.7 1217.7,621.5 1225.8,610.7 1234,608.4 1242.1,621.6 1250.2,614.2 1258.4,619.5 1266.5,634.4 1274.6,629.8 1282.8,616.2 1290.9,603.9 1299.1,601.3 1307.2,604 1315.3,613.7 1323.5,617.6 1331.6,609 1339.7,599.1 1347.9,615.8 1356,630.7 1364.2,621.4 1372.3,627.2 1380.4,612.2 1388.6,610.6 1396.7,626.6 1404.8,621.5 1413,642.5 1421.1,648.8 1429.2,671 1437.4,690.3 1445.5,701.4 1453.7,726.9 1461.8,756 1469.9,784.2 1478.1,817.4 1486.2,839.1 1494.3,863.1 1502.5,884.6 1510.6,900.4 1518.8,916.8 1526.9,927.1 1535,938.8 1543.2,946.3 1551.3,943.2 1559.4,947.8 1567.6,947.1 1575.7,951.7 1583.9,949.7 1592,948.1 1600.1,950.1 1608.3,950.1 1616.4,952.4 1624.5,950.2 1632.7,948.7 1640.8,950.4 1649,949.6 1657.1,951.2 1665.2,950.1 1673.4,952.1 1681.5,951.5 1689.6,952.2 1697.8,948.7 1705.9,952.2 1714,954.1" stroke="#482475" marker-start="url(#mb0)" marker-mid="url(#mb0)" marker-end="url(#mb0)"/><polyline points="892.2,952.2 900.3,953.3 908.5,950.2 916.6,951.3 924.7,952.9 932.9,950.7 941,952.3 949.2,951.6 957.3,951.8 965.4,951.6 973.6,951.5 981.7,949 989.8,946.5 998,950.1 1006.1,947.5 1014.3,949.9 1022.4,948.5 1030.5,944.9 1038.7,948.4 1046.8,945.5 1054.9,946.9 1063.1,944.8 1071.2,931.7 1079.4,927.7 1087.5,915.9 1095.6,903.5 1103.8,884.4 1111.9,862.4 1120,834.4 1128.2,806.7 1136.3,780.3 1144.4,755.1 1152.6,735.2 1160.7,709.9 1168.9,687.3 1177,677.1 1185.1,653.5 1193.3,650.8 1201.4,638.8 1209.5,639.7 1217.7,614.3 1225.8,615.4 1234,616.6 1242.1,614.7 1250.2,608.6 1258.4,614.7 1266.5,618.8 1274.6,633 1282.8,611.6 1290.9,620.6 1299.1,604 1307.2,613.2 1315.3,616.4 1323.5,621.1 1331.6,606.2 1339.7,621.4 1347.9,619.4 1356,627.5 1364.2,619.9 1372.3,620.8 1380.4,610.8 1388.6,626.1 1396.7,630.6 1404.8,637.4 1413,646.9 1421.1,658.7 1429.2,675.9 1437.4,682.3 1445.5,706.6 1453.7,724.8 1461.8,754.5 1469.9,788.2 1478.1,810.9 1486.2,834.3 1494.3,857.6 1502.5,879.6 1510.6,896.6 1518.8,909.2 1526.9,924.5 1535,937 1543.2,943.9 1551.3,947 1559.4,948.5 1567.6,948.9 1575.7,947 1583.9,950.8 1592,949.8 1600.1,949.9 1608.3,951.7 1616.4,947.8 1624.5,949.5 1632.7,947.9 1640.8,953.7 1649,952.1 1657.1,949.3 1665.2,951.1 1673.4,951.4 1681.5,952.5 1689.6,952 1697.8,950.3 1705.9,952.4 1714,952.1" stroke="#414487" marker-start="url(#mb1)" marker-mid="url(#mb1)" marker-end="url(#mb1)"/><polyline points="892.2,953.4 900.3,953.4 908.5,953.3 916.6,951.1 924.7,952.2 932.9,949.9 941,950.7 949.2,950.1 957.3,951.6 965.4,950.2 973.6,948 981.7,949.7 989.8,946.6 998,949.9 1006.1,948 1014.3,949 1022.4,950.4 1030.5,947.5 1038.7,945 1046.8,947.4 1054.9,947.3 1063.1,939.9 1071.2,932.4 1079.4,920.5 1087.5,911 1095.6,893.6 1103.8,873.3 1111.9,850.7 1120,825.9 1128.2,803.4 1136.3,779.2 1144.4,754.9 1152.6,725.2 1160.7,711.9 1168.9,698.9 1177,680.2 1185.1,658.2 1193.3,633.9 1201.4,635.4 1209.5,614.7 1217.7,629.9 1225.8,630.9 1234,616.7 1242.1,623.1 1250.2,621.5 1258.4,619.9 1266.5,622.3 1274.6,624.3 1282.8,619 1290.9,615.3 1299.1,617.9 1307.2,625.7 1315.3,615.2 1323.5,614.3 1331.6,613.5 1339.7,613.8 1347.9,604.3 1356,626.9 1364.2,622.1 1372.3,612.9 1380.4,622.2 1388.6,632 1396.7,622.3 1404.8,623.1 1413,654.1 1421.1,663.9 1429.2,670.2 1437.4,698.3 1445.5,708.5 1453.7,725.4 1461.8,753.6 1469.9,776.4 1478.1,803.8 1486.2,827.3 1494.3,847.8 1502.5,868.8 1510.6,889.7 1518.8,900.4 1526.9,913.3 1535,926.1 1543.2,933.8 1551.3,945.5 1559.4,945.7 1567.6,949.3 1575.7,948.9 1583.9,949.3 1592,946.8 1600.1,949 1608.3,951 1616.4,950.5 1624.5,952.4 1632.7,952.2 1640.8,948 1649,951.2 1657.1,951.3 1665.2,948.5 1673.4,950.2 1681.5,952 1689.6,955 1697.8,952.3 1705.9,954.1 1714,951.7" stroke="#355f8d" marker-start="url(#mb2)" marker-mid="url(#mb2)" marker-end="url(#mb2)"/><polyline points="892.2,952.2 900.3,950.8 908.5,947.7 916.6,952.4 924.7,949.4 932.9,950.2 941,949 949.2,951.3 957.3,947.8 965.4,948.6 973.6,949.9 981.7,947.7 989.8,948.6 998,944.3 1006.1,945.9 1014.3,946.2 1022.4,947.9 1030.5,948.2 1038.7,946.2 1046.8,945 1054.9,944.2 1063.1,935.3 1071.2,924.8 1079.4,914.5 1087.5,898.8 1095.6,884 1103.8,863.3 1111.9,843.1 1120,818.7 1128.2,795.9 1136.3,774.8 1144.4,748.8 1152.6,734.9 1160.7,713.1 1168.9,694.1 1177,672.3 1185.1,668.5 1193.3,637.9 1201.4,632.9 1209.5,635.8 1217.7,614.9 1225.8,631.2 1234,620.2 1242.1,614.5 1250.2,636.3 1258.4,608.6 1266.5,615.3 1274.6,613.4 1282.8,618.3 1290.9,615 1299.1,613.7 1307.2,624.4 1315.3,636.9 1323.5,606.1 1331.6,633.1 1339.7,621.7 1347.9,635 1356,616 1364.2,632.1 1372.3,625.6 1380.4,612.3 1388.6,626.5 1396.7,627.8 1404.8,617 1413,643.5 1421.1,665.1 1429.2,679.4 1437.4,695.1 1445.5,702.6 1453.7,736.2 1461.8,754.9 1469.9,773.6 1478.1,803.1 1486.2,822.5 1494.3,840.7 1502.5,856.8 1510.6,876.3 1518.8,891.5 1526.9,905.6 1535,924.3 1543.2,935.2 1551.3,944.8 1559.4,944.3 1567.6,947.7 1575.7,946.6 1583.9,950.5 1592,949.1 1600.1,948.9 1608.3,948.4 1616.4,945.2 1624.5,949.2 1632.7,949.1 1640.8,950.7 1649,947 1657.1,949.6 1665.2,947.6 1673.4,949.5 1681.5,952.6 1689.6,950 1697.8,951.4 1705.9,951.6 1714,950" stroke="#2a788e" marker-start="url(#mb3)" marker-mid="url(#mb3)" marker-end="url(#mb3)"/><polyline points="892.2,951.3 900.3,949.7 908.5,950.2 916.6,949.8 924.7,947.7 932.9,952.6 941,949.9 949.2,952.5 957.3,950.8 965.4,950.5 973.6,948.5 981.7,947.4 989.8,949.1 998,948.9 1006.1,950.3 1014.3,946.7 1022.4,947.6 1030.5,946.5 1038.7,945.5 1046.8,940.6 1054.9,937.6 1063.1,930.9 1071.2,916.6 1079.4,904.3 1087.5,888.9 1095.6,871.6 1103.8,848.8 1111.9,825.7 1120,811.4 1128.2,789.3 1136.3,766.9 1144.4,740.3 1152.6,733 1160.7,710.6 1168.9,685.1 1177,674.7 1185.1,659.8 1193.3,661.1 1201.4,636.6 1209.5,633.7 1217.7,611.5 1225.8,618.1 1234,621.1 1242.1,625.2 1250.2,602.3 1258.4,624.5 1266.5,617.5 1274.6,613.7 1282.8,619.5 1290.9,619.1 1299.1,609.7 1307.2,611.7 1315.3,615.7 1323.5,612 1331.6,618.2 1339.7,605.4 1347.9,615.9 1356,607 1364.2,628.9 1372.3,622.4 1380.4,632 1388.6,632.5 1396.7,632.9 1404.8,640.2 1413,638.4 1421.1,666.2 1429.2,674.8 1437.4,695.5 1445.5,716.9 1453.7,730.4 1461.8,748.2 1469.9,770.4 1478.1,797 1486.2,813.7 1494.3,827.7 1502.5,849.1 1510.6,865.9 1518.8,883.7 1526.9,899.3 1535,914.3 1543.2,922.9 1551.3,935.2 1559.4,945.4 1567.6,946.3 1575.7,952.2 1583.9,947.1 1592,945.7 1600.1,946 1608.3,946.6 1616.4,949 1624.5,950.9 1632.7,947.4 1640.8,949.5 1649,947.2 1657.1,949.4 1665.2,950.2 1673.4,948.1 1681.5,949.4 1689.6,948.5 1697.8,952.4 1705.9,950.5 1714,951.2" stroke="#21918c" marker-start="url(#mb4)" marker-mid="url(#mb4)" marker-end="url(#mb4)"/><polyline points="892.2,950.2 900.3,949.3 908.5,950.2 916.6,948.7 924.7,948.3 932.9,951.8 941,949.9 949.2,947.9 957.3,946.1 965.4,950.3 973.6,948.4 981.7,948.7 989.8,949.3 998,948.6 1006.1,947.3 1014.3,948.8 1022.4,947.3 1030.5,943.9 1038.7,942.4 1046.8,937.2 1054.9,930.8 1063.1,918.9 1071.2,907.2 1079.4,895.5 1087.5,878.7 1095.6,858.8 1103.8,841 1111.9,823.5 1120,798.8 1128.2,786 1136.3,767 1144.4,748.9 1152.6,731.8 1160.7,705.7 1168.9,693.1 1177,679.5 1185.1,670.1 1193.3,653.1 1201.4,641.2 1209.5,629.6 1217.7,632.5 1225.8,633 1234,614.7 1242.1,617 1250.2,635.4 1258.4,620.7 1266.5,624.1 1274.6,625.9 1282.8,622.6 1290.9,623 1299.1,618.1 1307.2,617.5 1315.3,620 1323.5,622.9 1331.6,615.2 1339.7,621.5 1347.9,630.2 1356,641.1 1364.2,624.1 1372.3,609.2 1380.4,617.3 1388.6,641.8 1396.7,623.5 1404.8,648.3 1413,653.5 1421.1,673.6 1429.2,680.3 1437.4,690 1445.5,710.1 1453.7,729.5 1461.8,748.4 1469.9,769.8 1478.1,787.3 1486.2,807 1494.3,823.5 1502.5,838.6 1510.6,852.9 1518.8,868.2 1526.9,885.6 1535,900.6 1543.2,915.3 1551.3,928.5 1559.4,940.1 1567.6,948.1 1575.7,948.7 1583.9,948.2 1592,949.5 1600.1,948.3 1608.3,948.4 1616.4,949.5 1624.5,947.7 1632.7,949.1 1640.8,950.5 1649,947.1 1657.1,949.2 1665.2,950.6 1673.4,947.9 1681.5,949.9 1689.6,950 1697.8,951.5 1705.9,949.1 1714,950" stroke="#22a884" marker-start="url(#mb5)" marker-mid="url(#mb5)" marker-end="url(#mb5)"/><polyline points="892.2,950 900.3,953.5 908.5,948.7 916.6,949.6 924.7,948.1 932.9,947 941,947.5 949.2,949.8 957.3,950.8 965.4,948.5 973.6,947.9 981.7,946.5 989.8,949.5 998,948.7 1006.1,948.6 1014.3,944.9 1022.4,943.5 1030.5,937.1 1038.7,933.6 1046.8,927.6 1054.9,915.6 1063.1,899.4 1071.2,890.2 1079.4,874.6 1087.5,858.9 1095.6,840.3 1103.8,823.2 1111.9,812.5 1120,794.1 1128.2,773.7 1136.3,762.1 1144.4,738.3 1152.6,714.9 1160.7,710 1168.9,698 1177,680.7 1185.1,671.3 1193.3,652.7 1201.4,642.4 1209.5,640.8 1217.7,642.2 1225.8,618.2 1234,639.6 1242.1,627.2 1250.2,614.7 1258.4,614.2 1266.5,624.6 1274.6,641.9 1282.8,640.5 1290.9,618.2 1299.1,621.5 1307.2,613.2 1315.3,609.9 1323.5,622 1331.6,604.7 1339.7,623.3 1347.9,624.4 1356,619.7 1364.2,608.2 1372.3,605 1380.4,633 1388.6,642.5 1396.7,628.9 1404.8,642.1 1413,669.4 1421.1,677.1 1429.2,678.4 1437.4,695.8 1445.5,714.9 1453.7,730.6 1461.8,758.6 1469.9,769.5 1478.1,785.5 1486.2,797.6 1494.3,808.2 1502.5,825 1510.6,836.1 1518.8,849.3 1526.9,865.9 1535,879.7 1543.2,894.5 1551.3,908.9 1559.4,920.1 1567.6,935.5 1575.7,939.8 1583.9,945.1 1592,947.1 1600.1,947.7 1608.3,948.3 1616.4,945.1 1624.5,951.5 1632.7,946.8 1640.8,946.8 1649,948.3 1657.1,948 1665.2,948.8 1673.4,949.6 1681.5,946.8 1689.6,947.6 1697.8,949.2 1705.9,949.3 1714,948" stroke="#44bf70" marker-start="url(#mb6)" marker-mid="url(#mb6)" marker-end="url(#mb6)"/><polyline points="892.2,951.5 900.3,947.5 908.5,950.9 916.6,948.7 924.7,946.2 932.9,943.5 941,947.8 949.2,946.9 957.3,947.5 965.4,946.6 973.6,948.7 981.7,945.9 989.8,948.3 998,945.1 1006.1,942.9 1014.3,945 1022.4,934.9 1030.5,929.8 1038.7,919.2 1046.8,908.1 1054.9,896.9 1063.1,883.2 1071.2,870.2 1079.4,855.9 1087.5,841.7 1095.6,825.9 1103.8,811.8 1111.9,799.9 1120,785.1 1128.2,765.2 1136.3,749.1 1144.4,733.4 1152.6,724.3 1160.7,714.3 1168.9,690.7 1177,678.4 1185.1,670.1 1193.3,661.9 1201.4,637.4 1209.5,639.4 1217.7,640.8 1225.8,630.2 1234,627.8 1242.1,642.6 1250.2,629.6 1258.4,641.3 1266.5,619.7 1274.6,617.8 1282.8,597.2 1290.9,605 1299.1,605.5 1307.2,626.8 1315.3,633.3 1323.5,614.5 1331.6,609 1339.7,624.1 1347.9,626.1 1356,629 1364.2,616.2 1372.3,623.5 1380.4,625.4 1388.6,643 1396.7,634.6 1404.8,647.4 1413,659.2 1421.1,674 1429.2,695.4 1437.4,705.6 1445.5,716.7 1453.7,743.5 1461.8,748.8 1469.9,762.6 1478.1,780.7 1486.2,793.6 1494.3,805 1502.5,814.6 1510.6,822.3 1518.8,833.7 1526.9,847.9 1535,858.7 1543.2,870.4 1551.3,886.8 1559.4,900 1567.6,914.9 1575.7,929.1 1583.9,939.2 1592,945.7 1600.1,947.3 1608.3,942.4 1616.4,947.9 1624.5,949.3 1632.7,948.3 1640.8,946.5 1649,946.3 1657.1,947.8 1665.2,944.6 1673.4,946 1681.5,944.8 1689.6,947.6 1697.8,950.3 1705.9,946.2 1714,946.5" stroke="#7ad151" marker-start="url(#mb7)" marker-mid="url(#mb7)" marker-end="url(#mb7)"/><polyline points="892.2,946.1 900.3,946.5 908.5,946.2 916.6,945.9 924.7,946.5 932.9,946.3 941,944.9 949.2,947.8 957.3,946.3 965.4,943.4 973.6,947.6 981.7,944.4 989.8,943.4 998,943.5 1006.1,938.8 1014.3,934.1 1022.4,922.4 1030.5,914.4 1038.7,902.7 1046.8,893.4 1054.9,877.2 1063.1,867.7 1071.2,849.7 1079.4,838.5 1087.5,825.4 1095.6,812 1103.8,800.7 1111.9,789.2 1120,778.2 1128.2,759.9 1136.3,746.7 1144.4,729.9 1152.6,722.7 1160.7,709.4 1168.9,701.4 1177,675.3 1185.1,673.3 1193.3,667.3 1201.4,662.5 1209.5,642.4 1217.7,635.5 1225.8,655 1234,630.4 1242.1,636.2 1250.2,613.1 1258.4,629.6 1266.5,610.1 1274.6,643.7 1282.8,641 1290.9,626.6 1299.1,630.1 1307.2,615.4 1315.3,636 1323.5,612.2 1331.6,629.4 1339.7,623.2 1347.9,619.9 1356,632.7 1364.2,615.1 1372.3,621.7 1380.4,621.6 1388.6,642.3 1396.7,667.2 1404.8,666.3 1413,657.9 1421.1,689.4 1429.2,686.5 1437.4,706.3 1445.5,728.1 1453.7,741.2 1461.8,749 1469.9,761.6 1478.1,775.9 1486.2,781.9 1494.3,797.5 1502.5,806.8 1510.6,822.6 1518.8,824.4 1526.9,838.3 1535,845 1543.2,857.6 1551.3,868.8 1559.4,880.9 1567.6,894.8 1575.7,910.5 1583.9,922.6 1592,932.6 1600.1,938.2 1608.3,943.6 1616.4,944.9 1624.5,945.5 1632.7,943.1 1640.8,943.8 1649,943.5 1657.1,945 1665.2,948.2 1673.4,944.2 1681.5,942.5 1689.6,942.8 1697.8,945.2 1705.9,945.4 1714,945.5" stroke="#bddf26" marker-start="url(#mb8)" marker-mid="url(#mb8)" marker-end="url(#mb8)"/></g><rect x="921" y="580.5" width="768.6" height="392.6" fill="none" stroke="#000" stroke-width="1.2"/><path d="M921.02 973.1v5.2M1017.09 973.1v5.2M1113.16 973.1v5.2M1209.23 973.1v5.2M1305.3 973.1v5.2M1401.37 973.1v5.2M1497.44 973.1v5.2M1593.51 973.1v5.2M1689.58 973.1v5.2M921 957.1h-5.2M921 890.16h-5.2M921 823.22h-5.2M921 756.28h-5.2M921 689.34h-5.2M921 622.4h-5.2" stroke="#000" stroke-width="1.2"/><text x="921.02" y="1006.5" font-size="30" text-anchor="middle">−4</text><text x="1017.09" y="1006.5" font-size="30" text-anchor="middle">−3</text><text x="1113.16" y="1006.5" font-size="30" text-anchor="middle">−2</text><text x="1209.23" y="1006.5" font-size="30" text-anchor="middle">−1</text><text x="1305.3" y="1006.5" font-size="30" text-anchor="middle">0</text><text x="1401.37" y="1006.5" font-size="30" text-anchor="middle">1</text><text x="1497.44" y="1006.5" font-size="30" text-anchor="middle">2</text><text x="1593.51" y="1006.5" font-size="30" text-anchor="middle">3</text><text x="1689.58" y="1006.5" font-size="30" text-anchor="middle">4</text><text x="1306.5" y="570.7" font-size="30" text-anchor="middle"><tspan font-style="italic">y</tspan>-profile</text><text x="1306.5" y="1041.9" font-size="30" text-anchor="middle"><tspan font-style="italic">y</tspan> / mm</text><rect x="774.5" y="53.1" width="258.7" height="284.2" rx="5.4" fill="#fff" stroke="#cccccc" stroke-width="1.2"/><line x1="784.3" y1="74.4" x2="838.3" y2="74.4" stroke="#472d7b" stroke-width="3" stroke-linecap="square"/><circle cx="811.3" cy="74.4" r="3" fill="#472d7b" stroke="#472d7b" stroke-width="1.5" stroke-linejoin="miter"/><text x="860" y="84" font-size="27" text-anchor="start">Ø 1 mm</text><line x1="784.3" y1="113.95" x2="838.3" y2="113.95" stroke="#3b528b" stroke-width="3" stroke-linecap="square"/><polygon points="811.30,109.71 813.85,113.95 811.30,118.19 808.75,113.95" fill="#3b528b" stroke="#3b528b" stroke-width="1.5" stroke-linejoin="miter"/><text x="860" y="123.55" font-size="27" text-anchor="start">Ø 3.5 mm</text><line x1="784.3" y1="153.5" x2="838.3" y2="153.5" stroke="#2c728e" stroke-width="3" stroke-linecap="square"/><path d="M808.3 150.5L814.3 156.5M808.3 156.5L814.3 150.5" fill="none" stroke="#2c728e" stroke-width="1.5"/><text x="860" y="163.1" font-size="27" text-anchor="start">Ø 5 mm</text><line x1="784.3" y1="193.05" x2="838.3" y2="193.05" stroke="#21918c" stroke-width="3" stroke-linecap="square"/><rect x="808.3" y="190.05" width="6" height="6" fill="#21918c" stroke="#21918c" stroke-width="1.5" stroke-linejoin="miter"/><text x="860" y="202.65" font-size="27" text-anchor="start">Ø 10 mm</text><line x1="784.3" y1="232.6" x2="838.3" y2="232.6" stroke="#28ae80" stroke-width="3" stroke-linecap="square"/><polygon points="811.30,229.60 808.30,235.60 814.30,235.60" fill="#28ae80" stroke="#28ae80" stroke-width="1.5" stroke-linejoin="miter"/><text x="860" y="242.2" font-size="27" text-anchor="start">Ø 15 mm</text><line x1="784.3" y1="272.15" x2="838.3" y2="272.15" stroke="#5ec962" stroke-width="3" stroke-linecap="square"/><polygon points="811.30,275.15 808.30,269.15 814.30,269.15" fill="#5ec962" stroke="#5ec962" stroke-width="1.5" stroke-linejoin="miter"/><text x="860" y="281.75" font-size="27" text-anchor="start">10×10 mm<tspan font-size="19" dy="-11">2</tspan></text><line x1="784.3" y1="311.7" x2="838.3" y2="311.7" stroke="#addc30" stroke-width="3" stroke-linecap="square"/><polygon points="808.30,311.70 814.30,308.70 814.30,314.70" fill="#addc30" stroke="#addc30" stroke-width="1.5" stroke-linejoin="miter"/><text x="860" y="321.3" font-size="27" text-anchor="start">20×20 mm<tspan font-size="19" dy="-11">2</tspan></text><rect x="757.5" y="586.2" width="292.8" height="245.2" rx="5.4" fill="#fff" stroke="#cccccc" stroke-width="1.2"/><text x="903.9" y="616.9" font-size="27" text-anchor="middle">Depth / mm</text><line x1="767.55" y1="647.4" x2="821.55" y2="647.4" stroke="#482475" stroke-width="3" stroke-linecap="square"/><circle cx="794.55" cy="647.4" r="3" fill="#482475" stroke="#482475" stroke-width="1.5" stroke-linejoin="miter"/><text x="843" y="657" font-size="27" text-anchor="start">0</text><line x1="767.55" y1="687" x2="821.55" y2="687" stroke="#414487" stroke-width="3" stroke-linecap="square"/><polygon points="794.55,682.76 797.10,687.00 794.55,691.24 792.00,687.00" fill="#414487" stroke="#414487" stroke-width="1.5" stroke-linejoin="miter"/><text x="843" y="696.6" font-size="27" text-anchor="start">2</text><line x1="767.55" y1="726.6" x2="821.55" y2="726.6" stroke="#355f8d" stroke-width="3" stroke-linecap="square"/><path d="M791.55 723.6L797.55 729.6M791.55 729.6L797.55 723.6" fill="none" stroke="#355f8d" stroke-width="1.5"/><text x="843" y="736.2" font-size="27" text-anchor="start">6</text><line x1="767.55" y1="766.2" x2="821.55" y2="766.2" stroke="#2a788e" stroke-width="3" stroke-linecap="square"/><rect x="791.55" y="763.2" width="6" height="6" fill="#2a788e" stroke="#2a788e" stroke-width="1.5" stroke-linejoin="miter"/><text x="843" y="775.8" font-size="27" text-anchor="start">10</text><line x1="767.55" y1="805.8" x2="821.55" y2="805.8" stroke="#21918c" stroke-width="3" stroke-linecap="square"/><polygon points="794.55,802.80 791.55,808.80 797.55,808.80" fill="#21918c" stroke="#21918c" stroke-width="1.5" stroke-linejoin="miter"/><text x="843" y="815.4" font-size="27" text-anchor="start">15</text><line x1="930.6" y1="647.4" x2="984.6" y2="647.4" stroke="#22a884" stroke-width="3" stroke-linecap="square"/><polygon points="957.60,650.40 954.60,644.40 960.60,644.40" fill="#22a884" stroke="#22a884" stroke-width="1.5" stroke-linejoin="miter"/><text x="1005.7" y="657" font-size="27" text-anchor="start">20</text><line x1="930.6" y1="687" x2="984.6" y2="687" stroke="#44bf70" stroke-width="3" stroke-linecap="square"/><polygon points="954.60,687.00 960.60,684.00 960.60,690.00" fill="#44bf70" stroke="#44bf70" stroke-width="1.5" stroke-linejoin="miter"/><text x="1005.7" y="696.6" font-size="27" text-anchor="start">30</text><line x1="930.6" y1="726.6" x2="984.6" y2="726.6" stroke="#7ad151" stroke-width="3" stroke-linecap="square"/><polygon points="960.60,726.60 954.60,723.60 954.60,729.60" fill="#7ad151" stroke="#7ad151" stroke-width="1.5" stroke-linejoin="miter"/><text x="1005.7" y="736.2" font-size="27" text-anchor="start">40</text><line x1="930.6" y1="766.2" x2="984.6" y2="766.2" stroke="#bddf26" stroke-width="3" stroke-linecap="square"/><polygon points="957.60,763.20 956.93,765.27 954.75,765.27 956.51,766.55 955.84,768.63 957.60,767.35 959.36,768.63 958.69,766.55 960.45,765.27 958.27,765.27" fill="#bddf26" stroke="#bddf26" stroke-width="1.5" stroke-linejoin="bevel"/><text x="1005.7" y="775.8" font-size="27" text-anchor="start">50</text><rect x="-3" y="-3" width="44" height="44.4" fill="none" stroke="#000" stroke-width="3.8"/><text x="7.7" y="33" font-size="36" text-anchor="start">A</text><line x1="0" y1="531.4" x2="1711" y2="531.4" stroke="#000" stroke-width="4.6"/><rect x="-3" y="531.4" width="44" height="43.4" fill="none" stroke="#000" stroke-width="3.6"/><text x="7.2" y="566.3" font-size="36" text-anchor="start">B</text></svg></body></html>
